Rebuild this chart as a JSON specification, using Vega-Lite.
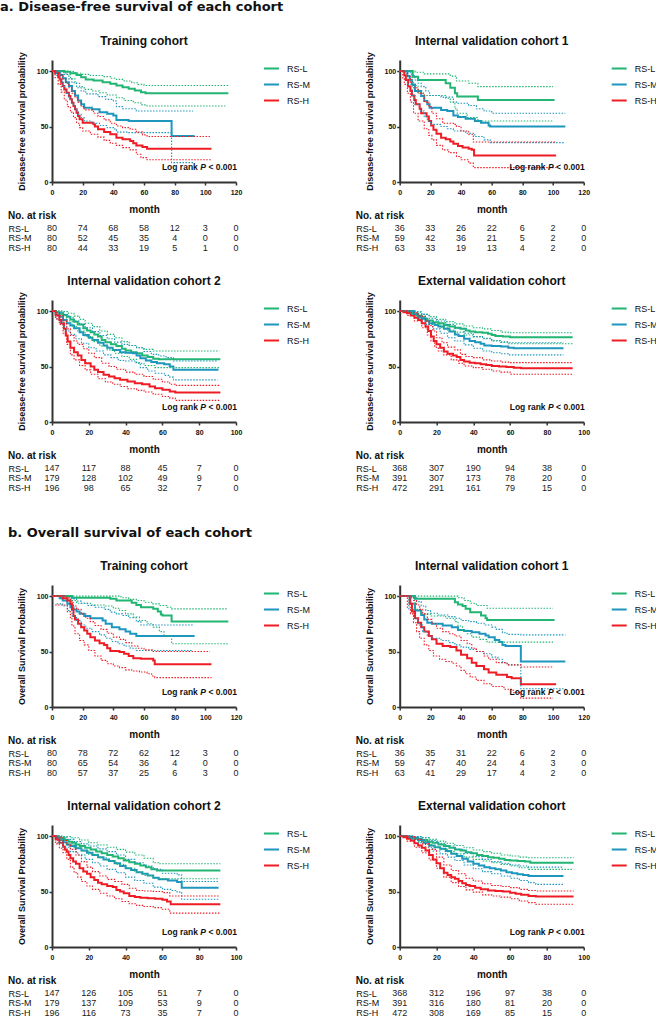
{
"$schema":"https://vega.github.io/schema/vega-lite/v6.json",
"autosize":{"type":"pad"},
"padding":{"top":1,"left":0,"right":0,"bottom":0},
"background":"white",
"datasets":{
"km":[
{"p":"a1","g":"L","c":"e","t":0,"s":100},{"p":"a1","g":"L","c":"e","t":8,"s":99.5},{"p":"a1","g":"L","c":"e","t":12,"s":98},{"p":"a1","g":"L","c":"e","t":16,"s":96.5},{"p":"a1","g":"L","c":"e","t":19,"s":94.5},{"p":"a1","g":"L","c":"e","t":22,"s":92.5},{"p":"a1","g":"L","c":"e","t":27,"s":91.5},{"p":"a1","g":"L","c":"e","t":33,"s":90},{"p":"a1","g":"L","c":"e","t":38,"s":88.5},{"p":"a1","g":"L","c":"e","t":42,"s":87},{"p":"a1","g":"L","c":"e","t":46,"s":85.5},{"p":"a1","g":"L","c":"e","t":50,"s":84},{"p":"a1","g":"L","c":"e","t":54,"s":82.5},{"p":"a1","g":"L","c":"e","t":58,"s":81},{"p":"a1","g":"L","c":"e","t":61,"s":80},{"p":"a1","g":"L","c":"e","t":115,"s":80},
{"p":"a1","g":"M","c":"e","t":0,"s":100},{"p":"a1","g":"M","c":"e","t":3,"s":98.5},{"p":"a1","g":"M","c":"e","t":5,"s":96.5},{"p":"a1","g":"M","c":"e","t":7,"s":93.5},{"p":"a1","g":"M","c":"e","t":9,"s":90},{"p":"a1","g":"M","c":"e","t":11,"s":86.5},{"p":"a1","g":"M","c":"e","t":13,"s":82},{"p":"a1","g":"M","c":"e","t":15,"s":78},{"p":"a1","g":"M","c":"e","t":17,"s":73.5},{"p":"a1","g":"M","c":"e","t":19,"s":70},{"p":"a1","g":"M","c":"e","t":21,"s":67},{"p":"a1","g":"M","c":"e","t":26,"s":65.5},{"p":"a1","g":"M","c":"e","t":31,"s":63},{"p":"a1","g":"M","c":"e","t":36,"s":61.5},{"p":"a1","g":"M","c":"e","t":40,"s":60},{"p":"a1","g":"M","c":"e","t":42,"s":56},{"p":"a1","g":"M","c":"e","t":50,"s":55},{"p":"a1","g":"M","c":"e","t":78,"s":41.5},{"p":"a1","g":"M","c":"e","t":93,"s":41.5},
{"p":"a1","g":"H","c":"e","t":0,"s":100},{"p":"a1","g":"H","c":"e","t":2,"s":98},{"p":"a1","g":"H","c":"e","t":4,"s":95},{"p":"a1","g":"H","c":"e","t":5,"s":92.5},{"p":"a1","g":"H","c":"e","t":6,"s":89.5},{"p":"a1","g":"H","c":"e","t":7,"s":86.5},{"p":"a1","g":"H","c":"e","t":8,"s":83.5},{"p":"a1","g":"H","c":"e","t":9.5,"s":80.5},{"p":"a1","g":"H","c":"e","t":11,"s":77.5},{"p":"a1","g":"H","c":"e","t":12,"s":74.5},{"p":"a1","g":"H","c":"e","t":13,"s":71.5},{"p":"a1","g":"H","c":"e","t":14,"s":68.5},{"p":"a1","g":"H","c":"e","t":15,"s":65.5},{"p":"a1","g":"H","c":"e","t":16,"s":62.5},{"p":"a1","g":"H","c":"e","t":17,"s":59.5},{"p":"a1","g":"H","c":"e","t":18,"s":56.5},{"p":"a1","g":"H","c":"e","t":20,"s":53.5},{"p":"a1","g":"H","c":"e","t":27,"s":52},{"p":"a1","g":"H","c":"e","t":28,"s":50},{"p":"a1","g":"H","c":"e","t":30,"s":47.5},{"p":"a1","g":"H","c":"e","t":34,"s":45},{"p":"a1","g":"H","c":"e","t":38,"s":43},{"p":"a1","g":"H","c":"e","t":42,"s":40},{"p":"a1","g":"H","c":"e","t":46,"s":38.5},{"p":"a1","g":"H","c":"e","t":51,"s":37},{"p":"a1","g":"H","c":"e","t":53,"s":35},{"p":"a1","g":"H","c":"e","t":55,"s":33},{"p":"a1","g":"H","c":"e","t":59,"s":31.5},{"p":"a1","g":"H","c":"e","t":62,"s":30},{"p":"a1","g":"H","c":"e","t":104,"s":30},
{"p":"a1","g":"L","c":"u","t":0,"s":100},{"p":"a1","g":"L","c":"u","t":10,"s":99.5},{"p":"a1","g":"L","c":"u","t":15,"s":98},{"p":"a1","g":"L","c":"u","t":20,"s":97},{"p":"a1","g":"L","c":"u","t":25,"s":96},{"p":"a1","g":"L","c":"u","t":33,"s":95},{"p":"a1","g":"L","c":"u","t":38,"s":93.5},{"p":"a1","g":"L","c":"u","t":42,"s":92.5},{"p":"a1","g":"L","c":"u","t":47,"s":91},{"p":"a1","g":"L","c":"u","t":52,"s":89.5},{"p":"a1","g":"L","c":"u","t":56,"s":88},{"p":"a1","g":"L","c":"u","t":60,"s":87},{"p":"a1","g":"L","c":"u","t":115,"s":87},
{"p":"a1","g":"L","c":"l","t":0,"s":100},{"p":"a1","g":"L","c":"l","t":9,"s":97},{"p":"a1","g":"L","c":"l","t":12,"s":93},{"p":"a1","g":"L","c":"l","t":15,"s":89},{"p":"a1","g":"L","c":"l","t":18,"s":86},{"p":"a1","g":"L","c":"l","t":21,"s":83.5},{"p":"a1","g":"L","c":"l","t":26,"s":82},{"p":"a1","g":"L","c":"l","t":31,"s":80.5},{"p":"a1","g":"L","c":"l","t":36,"s":78.5},{"p":"a1","g":"L","c":"l","t":42,"s":76},{"p":"a1","g":"L","c":"l","t":47,"s":73.5},{"p":"a1","g":"L","c":"l","t":53,"s":71.5},{"p":"a1","g":"L","c":"l","t":58,"s":69.5},{"p":"a1","g":"L","c":"l","t":62,"s":68.5},{"p":"a1","g":"L","c":"l","t":113,"s":68.5},
{"p":"a1","g":"M","c":"u","t":0,"s":100},{"p":"a1","g":"M","c":"u","t":5,"s":99},{"p":"a1","g":"M","c":"u","t":8,"s":97},{"p":"a1","g":"M","c":"u","t":11,"s":93},{"p":"a1","g":"M","c":"u","t":13,"s":89.5},{"p":"a1","g":"M","c":"u","t":16,"s":85},{"p":"a1","g":"M","c":"u","t":19,"s":82},{"p":"a1","g":"M","c":"u","t":22,"s":79.5},{"p":"a1","g":"M","c":"u","t":30,"s":77},{"p":"a1","g":"M","c":"u","t":35,"s":74.5},{"p":"a1","g":"M","c":"u","t":40,"s":73},{"p":"a1","g":"M","c":"u","t":42,"s":68},{"p":"a1","g":"M","c":"u","t":46,"s":66},{"p":"a1","g":"M","c":"u","t":55,"s":64},{"p":"a1","g":"M","c":"u","t":92,"s":64},
{"p":"a1","g":"M","c":"l","t":0,"s":100},{"p":"a1","g":"M","c":"l","t":3,"s":96},{"p":"a1","g":"M","c":"l","t":5,"s":92},{"p":"a1","g":"M","c":"l","t":7,"s":86},{"p":"a1","g":"M","c":"l","t":9,"s":80},{"p":"a1","g":"M","c":"l","t":11,"s":75},{"p":"a1","g":"M","c":"l","t":13,"s":70},{"p":"a1","g":"M","c":"l","t":15,"s":65},{"p":"a1","g":"M","c":"l","t":17,"s":61},{"p":"a1","g":"M","c":"l","t":19,"s":58},{"p":"a1","g":"M","c":"l","t":21,"s":55},{"p":"a1","g":"M","c":"l","t":26,"s":53},{"p":"a1","g":"M","c":"l","t":31,"s":51},{"p":"a1","g":"M","c":"l","t":36,"s":49},{"p":"a1","g":"M","c":"l","t":41,"s":47},{"p":"a1","g":"M","c":"l","t":42,"s":45},{"p":"a1","g":"M","c":"l","t":50,"s":44.5},{"p":"a1","g":"M","c":"l","t":78,"s":17.5},{"p":"a1","g":"M","c":"l","t":92,"s":17.5},
{"p":"a1","g":"H","c":"u","t":0,"s":100},{"p":"a1","g":"H","c":"u","t":3,"s":99},{"p":"a1","g":"H","c":"u","t":5,"s":97},{"p":"a1","g":"H","c":"u","t":7,"s":93},{"p":"a1","g":"H","c":"u","t":9,"s":89},{"p":"a1","g":"H","c":"u","t":11,"s":85},{"p":"a1","g":"H","c":"u","t":13,"s":80},{"p":"a1","g":"H","c":"u","t":15,"s":76},{"p":"a1","g":"H","c":"u","t":17,"s":72},{"p":"a1","g":"H","c":"u","t":19,"s":68},{"p":"a1","g":"H","c":"u","t":21,"s":65},{"p":"a1","g":"H","c":"u","t":27,"s":62},{"p":"a1","g":"H","c":"u","t":30,"s":59},{"p":"a1","g":"H","c":"u","t":34,"s":56},{"p":"a1","g":"H","c":"u","t":38,"s":53},{"p":"a1","g":"H","c":"u","t":42,"s":50.5},{"p":"a1","g":"H","c":"u","t":46,"s":49},{"p":"a1","g":"H","c":"u","t":51,"s":47.5},{"p":"a1","g":"H","c":"u","t":55,"s":45},{"p":"a1","g":"H","c":"u","t":59,"s":42.5},{"p":"a1","g":"H","c":"u","t":62,"s":41},{"p":"a1","g":"H","c":"u","t":103,"s":41},
{"p":"a1","g":"H","c":"l","t":0,"s":100},{"p":"a1","g":"H","c":"l","t":2,"s":94},{"p":"a1","g":"H","c":"l","t":4,"s":88},{"p":"a1","g":"H","c":"l","t":6,"s":81},{"p":"a1","g":"H","c":"l","t":8,"s":74},{"p":"a1","g":"H","c":"l","t":10,"s":68},{"p":"a1","g":"H","c":"l","t":12,"s":63},{"p":"a1","g":"H","c":"l","t":14,"s":58},{"p":"a1","g":"H","c":"l","t":16,"s":53},{"p":"a1","g":"H","c":"l","t":18,"s":49},{"p":"a1","g":"H","c":"l","t":20,"s":46},{"p":"a1","g":"H","c":"l","t":25,"s":43},{"p":"a1","g":"H","c":"l","t":30,"s":40.5},{"p":"a1","g":"H","c":"l","t":34,"s":37.5},{"p":"a1","g":"H","c":"l","t":38,"s":35},{"p":"a1","g":"H","c":"l","t":42,"s":33},{"p":"a1","g":"H","c":"l","t":46,"s":31},{"p":"a1","g":"H","c":"l","t":51,"s":29},{"p":"a1","g":"H","c":"l","t":55,"s":25},{"p":"a1","g":"H","c":"l","t":58,"s":22},{"p":"a1","g":"H","c":"l","t":62,"s":20},{"p":"a1","g":"H","c":"l","t":104,"s":20},

{"p":"a2","g":"L","c":"e","t":0,"s":100},{"p":"a2","g":"L","c":"e","t":8.5,"s":95},{"p":"a2","g":"L","c":"e","t":12,"s":92},{"p":"a2","g":"L","c":"e","t":30,"s":89},{"p":"a2","g":"L","c":"e","t":33,"s":85},{"p":"a2","g":"L","c":"e","t":36,"s":80},{"p":"a2","g":"L","c":"e","t":37.5,"s":77},{"p":"a2","g":"L","c":"e","t":51,"s":74},{"p":"a2","g":"L","c":"e","t":101,"s":74},
{"p":"a2","g":"M","c":"e","t":0,"s":100},{"p":"a2","g":"M","c":"e","t":5,"s":95.5},{"p":"a2","g":"M","c":"e","t":6.5,"s":92},{"p":"a2","g":"M","c":"e","t":8,"s":88},{"p":"a2","g":"M","c":"e","t":10,"s":82},{"p":"a2","g":"M","c":"e","t":14,"s":77.5},{"p":"a2","g":"M","c":"e","t":16,"s":73},{"p":"a2","g":"M","c":"e","t":18,"s":70},{"p":"a2","g":"M","c":"e","t":19.5,"s":67},{"p":"a2","g":"M","c":"e","t":27,"s":65},{"p":"a2","g":"M","c":"e","t":31,"s":64},{"p":"a2","g":"M","c":"e","t":35,"s":60},{"p":"a2","g":"M","c":"e","t":38,"s":58.5},{"p":"a2","g":"M","c":"e","t":43,"s":57},{"p":"a2","g":"M","c":"e","t":49,"s":55},{"p":"a2","g":"M","c":"e","t":53,"s":53.5},{"p":"a2","g":"M","c":"e","t":58,"s":51},{"p":"a2","g":"M","c":"e","t":59,"s":50},{"p":"a2","g":"M","c":"e","t":108,"s":50},
{"p":"a2","g":"H","c":"e","t":0,"s":100},{"p":"a2","g":"H","c":"e","t":3,"s":96},{"p":"a2","g":"H","c":"e","t":4,"s":92},{"p":"a2","g":"H","c":"e","t":5.5,"s":86},{"p":"a2","g":"H","c":"e","t":7,"s":82},{"p":"a2","g":"H","c":"e","t":8,"s":78},{"p":"a2","g":"H","c":"e","t":9.5,"s":74},{"p":"a2","g":"H","c":"e","t":10.5,"s":70},{"p":"a2","g":"H","c":"e","t":13,"s":66},{"p":"a2","g":"H","c":"e","t":14,"s":62},{"p":"a2","g":"H","c":"e","t":17.5,"s":59},{"p":"a2","g":"H","c":"e","t":19,"s":55},{"p":"a2","g":"H","c":"e","t":20.5,"s":51},{"p":"a2","g":"H","c":"e","t":22,"s":47},{"p":"a2","g":"H","c":"e","t":24,"s":43.5},{"p":"a2","g":"H","c":"e","t":27,"s":40},{"p":"a2","g":"H","c":"e","t":30,"s":38.5},{"p":"a2","g":"H","c":"e","t":33,"s":36.5},{"p":"a2","g":"H","c":"e","t":35,"s":34.5},{"p":"a2","g":"H","c":"e","t":38,"s":32.5},{"p":"a2","g":"H","c":"e","t":41,"s":31},{"p":"a2","g":"H","c":"e","t":45,"s":30},{"p":"a2","g":"H","c":"e","t":47,"s":29},{"p":"a2","g":"H","c":"e","t":48.5,"s":24},{"p":"a2","g":"H","c":"e","t":102,"s":24},
{"p":"a2","g":"L","c":"u","t":0,"s":100},{"p":"a2","g":"L","c":"u","t":10,"s":99},{"p":"a2","g":"L","c":"u","t":16,"s":97.5},{"p":"a2","g":"L","c":"u","t":33,"s":95.5},{"p":"a2","g":"L","c":"u","t":37,"s":91},{"p":"a2","g":"L","c":"u","t":45,"s":89},{"p":"a2","g":"L","c":"u","t":51,"s":86},{"p":"a2","g":"L","c":"u","t":100,"s":86},
{"p":"a2","g":"L","c":"l","t":0,"s":100},{"p":"a2","g":"L","c":"l","t":8,"s":87},{"p":"a2","g":"L","c":"l","t":12,"s":80},{"p":"a2","g":"L","c":"l","t":16,"s":78},{"p":"a2","g":"L","c":"l","t":30,"s":75.5},{"p":"a2","g":"L","c":"l","t":33,"s":72},{"p":"a2","g":"L","c":"l","t":36,"s":66},{"p":"a2","g":"L","c":"l","t":37.5,"s":62},{"p":"a2","g":"L","c":"l","t":44,"s":58},{"p":"a2","g":"L","c":"l","t":51,"s":55},{"p":"a2","g":"L","c":"l","t":100,"s":55},
{"p":"a2","g":"M","c":"u","t":0,"s":100},{"p":"a2","g":"M","c":"u","t":6,"s":98.5},{"p":"a2","g":"M","c":"u","t":8,"s":96},{"p":"a2","g":"M","c":"u","t":10,"s":92},{"p":"a2","g":"M","c":"u","t":12,"s":89},{"p":"a2","g":"M","c":"u","t":14,"s":86},{"p":"a2","g":"M","c":"u","t":17,"s":82},{"p":"a2","g":"M","c":"u","t":19.5,"s":78},{"p":"a2","g":"M","c":"u","t":27,"s":76.5},{"p":"a2","g":"M","c":"u","t":35,"s":72},{"p":"a2","g":"M","c":"u","t":38,"s":71},{"p":"a2","g":"M","c":"u","t":45,"s":69},{"p":"a2","g":"M","c":"u","t":50,"s":66},{"p":"a2","g":"M","c":"u","t":55,"s":64},{"p":"a2","g":"M","c":"u","t":60,"s":62},{"p":"a2","g":"M","c":"u","t":108,"s":62},
{"p":"a2","g":"M","c":"l","t":0,"s":100},{"p":"a2","g":"M","c":"l","t":5,"s":88},{"p":"a2","g":"M","c":"l","t":8,"s":78},{"p":"a2","g":"M","c":"l","t":10,"s":70},{"p":"a2","g":"M","c":"l","t":13,"s":64},{"p":"a2","g":"M","c":"l","t":16,"s":59},{"p":"a2","g":"M","c":"l","t":18,"s":55},{"p":"a2","g":"M","c":"l","t":20,"s":52},{"p":"a2","g":"M","c":"l","t":27,"s":50},{"p":"a2","g":"M","c":"l","t":31,"s":48},{"p":"a2","g":"M","c":"l","t":35,"s":46},{"p":"a2","g":"M","c":"l","t":43,"s":44},{"p":"a2","g":"M","c":"l","t":49,"s":41},{"p":"a2","g":"M","c":"l","t":55,"s":38},{"p":"a2","g":"M","c":"l","t":59,"s":35.5},{"p":"a2","g":"M","c":"l","t":107,"s":35.5},
{"p":"a2","g":"H","c":"u","t":0,"s":100},{"p":"a2","g":"H","c":"u","t":3,"s":98.5},{"p":"a2","g":"H","c":"u","t":5,"s":95},{"p":"a2","g":"H","c":"u","t":7,"s":90},{"p":"a2","g":"H","c":"u","t":9,"s":85},{"p":"a2","g":"H","c":"u","t":12,"s":80},{"p":"a2","g":"H","c":"u","t":16,"s":72},{"p":"a2","g":"H","c":"u","t":19,"s":68},{"p":"a2","g":"H","c":"u","t":21,"s":62},{"p":"a2","g":"H","c":"u","t":24,"s":57},{"p":"a2","g":"H","c":"u","t":28,"s":53},{"p":"a2","g":"H","c":"u","t":35,"s":52},{"p":"a2","g":"H","c":"u","t":37,"s":50},{"p":"a2","g":"H","c":"u","t":40,"s":46},{"p":"a2","g":"H","c":"u","t":45,"s":43},{"p":"a2","g":"H","c":"u","t":48,"s":36},{"p":"a2","g":"H","c":"u","t":102,"s":36},
{"p":"a2","g":"H","c":"l","t":0,"s":100},{"p":"a2","g":"H","c":"l","t":2,"s":93},{"p":"a2","g":"H","c":"l","t":3,"s":88},{"p":"a2","g":"H","c":"l","t":5,"s":80},{"p":"a2","g":"H","c":"l","t":7,"s":72},{"p":"a2","g":"H","c":"l","t":9,"s":62},{"p":"a2","g":"H","c":"l","t":12,"s":55},{"p":"a2","g":"H","c":"l","t":16,"s":48},{"p":"a2","g":"H","c":"l","t":19,"s":42},{"p":"a2","g":"H","c":"l","t":21,"s":38},{"p":"a2","g":"H","c":"l","t":24,"s":33},{"p":"a2","g":"H","c":"l","t":28,"s":29},{"p":"a2","g":"H","c":"l","t":32,"s":26.5},{"p":"a2","g":"H","c":"l","t":37,"s":23},{"p":"a2","g":"H","c":"l","t":40,"s":20},{"p":"a2","g":"H","c":"l","t":45,"s":17},{"p":"a2","g":"H","c":"l","t":48,"s":13},{"p":"a2","g":"H","c":"l","t":102,"s":13},

{"p":"a3","g":"L","c":"e","t":0,"s":100},{"p":"a3","g":"L","c":"e","t":2,"s":99},{"p":"a3","g":"L","c":"e","t":4,"s":98},{"p":"a3","g":"L","c":"e","t":6,"s":96.5},{"p":"a3","g":"L","c":"e","t":8,"s":95},{"p":"a3","g":"L","c":"e","t":10,"s":92.5},{"p":"a3","g":"L","c":"e","t":12,"s":90.5},{"p":"a3","g":"L","c":"e","t":14,"s":88},{"p":"a3","g":"L","c":"e","t":17,"s":84.5},{"p":"a3","g":"L","c":"e","t":19,"s":82.5},{"p":"a3","g":"L","c":"e","t":21,"s":81},{"p":"a3","g":"L","c":"e","t":23,"s":79},{"p":"a3","g":"L","c":"e","t":25,"s":77},{"p":"a3","g":"L","c":"e","t":27,"s":74},{"p":"a3","g":"L","c":"e","t":29,"s":72},{"p":"a3","g":"L","c":"e","t":32,"s":70},{"p":"a3","g":"L","c":"e","t":35,"s":68.5},{"p":"a3","g":"L","c":"e","t":38,"s":66},{"p":"a3","g":"L","c":"e","t":40,"s":64.5},{"p":"a3","g":"L","c":"e","t":43,"s":63},{"p":"a3","g":"L","c":"e","t":46,"s":62},{"p":"a3","g":"L","c":"e","t":49,"s":60},{"p":"a3","g":"L","c":"e","t":52,"s":58.5},{"p":"a3","g":"L","c":"e","t":55,"s":57},{"p":"a3","g":"L","c":"e","t":58,"s":56.5},{"p":"a3","g":"L","c":"e","t":91.5,"s":56.5},
{"p":"a3","g":"M","c":"e","t":0,"s":100},{"p":"a3","g":"M","c":"e","t":2,"s":97},{"p":"a3","g":"M","c":"e","t":4,"s":95},{"p":"a3","g":"M","c":"e","t":6,"s":92},{"p":"a3","g":"M","c":"e","t":8,"s":89},{"p":"a3","g":"M","c":"e","t":10,"s":87},{"p":"a3","g":"M","c":"e","t":12,"s":84.5},{"p":"a3","g":"M","c":"e","t":15,"s":81},{"p":"a3","g":"M","c":"e","t":17,"s":78.5},{"p":"a3","g":"M","c":"e","t":20,"s":76},{"p":"a3","g":"M","c":"e","t":22,"s":74},{"p":"a3","g":"M","c":"e","t":25,"s":71.5},{"p":"a3","g":"M","c":"e","t":28,"s":69},{"p":"a3","g":"M","c":"e","t":30,"s":67},{"p":"a3","g":"M","c":"e","t":33,"s":65},{"p":"a3","g":"M","c":"e","t":37,"s":63},{"p":"a3","g":"M","c":"e","t":40,"s":62.5},{"p":"a3","g":"M","c":"e","t":44,"s":62},{"p":"a3","g":"M","c":"e","t":46,"s":60},{"p":"a3","g":"M","c":"e","t":48,"s":57.5},{"p":"a3","g":"M","c":"e","t":51,"s":55.5},{"p":"a3","g":"M","c":"e","t":54,"s":54},{"p":"a3","g":"M","c":"e","t":57,"s":53},{"p":"a3","g":"M","c":"e","t":61,"s":52},{"p":"a3","g":"M","c":"e","t":64,"s":50},{"p":"a3","g":"M","c":"e","t":66,"s":47},{"p":"a3","g":"M","c":"e","t":90.5,"s":47},
{"p":"a3","g":"H","c":"e","t":0,"s":100},{"p":"a3","g":"H","c":"e","t":2,"s":96},{"p":"a3","g":"H","c":"e","t":4,"s":92},{"p":"a3","g":"H","c":"e","t":5,"s":89},{"p":"a3","g":"H","c":"e","t":6.5,"s":84},{"p":"a3","g":"H","c":"e","t":7.5,"s":78},{"p":"a3","g":"H","c":"e","t":8.5,"s":72.5},{"p":"a3","g":"H","c":"e","t":10,"s":67},{"p":"a3","g":"H","c":"e","t":12,"s":63},{"p":"a3","g":"H","c":"e","t":14,"s":60},{"p":"a3","g":"H","c":"e","t":16,"s":56},{"p":"a3","g":"H","c":"e","t":18,"s":53},{"p":"a3","g":"H","c":"e","t":21,"s":50},{"p":"a3","g":"H","c":"e","t":23,"s":47},{"p":"a3","g":"H","c":"e","t":25,"s":45},{"p":"a3","g":"H","c":"e","t":28,"s":42.5},{"p":"a3","g":"H","c":"e","t":31,"s":41},{"p":"a3","g":"H","c":"e","t":34,"s":39.5},{"p":"a3","g":"H","c":"e","t":37,"s":38},{"p":"a3","g":"H","c":"e","t":41,"s":36.5},{"p":"a3","g":"H","c":"e","t":45,"s":35},{"p":"a3","g":"H","c":"e","t":49,"s":34},{"p":"a3","g":"H","c":"e","t":53,"s":32},{"p":"a3","g":"H","c":"e","t":56,"s":30.5},{"p":"a3","g":"H","c":"e","t":60,"s":29},{"p":"a3","g":"H","c":"e","t":64,"s":27.5},{"p":"a3","g":"H","c":"e","t":67,"s":26.5},{"p":"a3","g":"H","c":"e","t":91.5,"s":26.5},
{"p":"a3","g":"L","c":"u","t":0,"s":100},{"p":"a3","g":"L","c":"u","t":6,"s":99.5},{"p":"a3","g":"L","c":"u","t":9,"s":98},{"p":"a3","g":"L","c":"u","t":12,"s":95.5},{"p":"a3","g":"L","c":"u","t":15,"s":92.5},{"p":"a3","g":"L","c":"u","t":18,"s":89},{"p":"a3","g":"L","c":"u","t":22,"s":86},{"p":"a3","g":"L","c":"u","t":26,"s":82},{"p":"a3","g":"L","c":"u","t":30,"s":79},{"p":"a3","g":"L","c":"u","t":34,"s":76},{"p":"a3","g":"L","c":"u","t":38,"s":72.5},{"p":"a3","g":"L","c":"u","t":42,"s":69},{"p":"a3","g":"L","c":"u","t":46,"s":67},{"p":"a3","g":"L","c":"u","t":50,"s":65.5},{"p":"a3","g":"L","c":"u","t":55,"s":64},{"p":"a3","g":"L","c":"u","t":91,"s":64},
{"p":"a3","g":"L","c":"l","t":0,"s":100},{"p":"a3","g":"L","c":"l","t":5,"s":96},{"p":"a3","g":"L","c":"l","t":8,"s":91},{"p":"a3","g":"L","c":"l","t":11,"s":86},{"p":"a3","g":"L","c":"l","t":14,"s":82},{"p":"a3","g":"L","c":"l","t":18,"s":77},{"p":"a3","g":"L","c":"l","t":22,"s":72.5},{"p":"a3","g":"L","c":"l","t":26,"s":68.5},{"p":"a3","g":"L","c":"l","t":30,"s":65},{"p":"a3","g":"L","c":"l","t":34,"s":62},{"p":"a3","g":"L","c":"l","t":38,"s":59},{"p":"a3","g":"L","c":"l","t":42,"s":56.5},{"p":"a3","g":"L","c":"l","t":46,"s":53},{"p":"a3","g":"L","c":"l","t":50,"s":51},{"p":"a3","g":"L","c":"l","t":56,"s":49},{"p":"a3","g":"L","c":"l","t":91,"s":49},
{"p":"a3","g":"M","c":"u","t":0,"s":100},{"p":"a3","g":"M","c":"u","t":3,"s":99},{"p":"a3","g":"M","c":"u","t":6,"s":97},{"p":"a3","g":"M","c":"u","t":9,"s":94},{"p":"a3","g":"M","c":"u","t":12,"s":91},{"p":"a3","g":"M","c":"u","t":15,"s":88},{"p":"a3","g":"M","c":"u","t":18,"s":85},{"p":"a3","g":"M","c":"u","t":22,"s":81.5},{"p":"a3","g":"M","c":"u","t":26,"s":78},{"p":"a3","g":"M","c":"u","t":30,"s":75},{"p":"a3","g":"M","c":"u","t":34,"s":72},{"p":"a3","g":"M","c":"u","t":38,"s":70},{"p":"a3","g":"M","c":"u","t":42,"s":69},{"p":"a3","g":"M","c":"u","t":46,"s":67},{"p":"a3","g":"M","c":"u","t":50,"s":63.5},{"p":"a3","g":"M","c":"u","t":54,"s":61},{"p":"a3","g":"M","c":"u","t":58,"s":59.5},{"p":"a3","g":"M","c":"u","t":62,"s":58},{"p":"a3","g":"M","c":"u","t":66,"s":55},{"p":"a3","g":"M","c":"u","t":90,"s":55},
{"p":"a3","g":"M","c":"l","t":0,"s":100},{"p":"a3","g":"M","c":"l","t":2,"s":93},{"p":"a3","g":"M","c":"l","t":4,"s":90},{"p":"a3","g":"M","c":"l","t":6,"s":86},{"p":"a3","g":"M","c":"l","t":8,"s":82},{"p":"a3","g":"M","c":"l","t":10,"s":79},{"p":"a3","g":"M","c":"l","t":13,"s":75},{"p":"a3","g":"M","c":"l","t":16,"s":71},{"p":"a3","g":"M","c":"l","t":20,"s":67},{"p":"a3","g":"M","c":"l","t":24,"s":64},{"p":"a3","g":"M","c":"l","t":28,"s":60.5},{"p":"a3","g":"M","c":"l","t":32,"s":58},{"p":"a3","g":"M","c":"l","t":36,"s":55.5},{"p":"a3","g":"M","c":"l","t":40,"s":55},{"p":"a3","g":"M","c":"l","t":45,"s":53.5},{"p":"a3","g":"M","c":"l","t":48,"s":49},{"p":"a3","g":"M","c":"l","t":52,"s":46},{"p":"a3","g":"M","c":"l","t":56,"s":44},{"p":"a3","g":"M","c":"l","t":61,"s":42},{"p":"a3","g":"M","c":"l","t":64,"s":40.5},{"p":"a3","g":"M","c":"l","t":66,"s":38},{"p":"a3","g":"M","c":"l","t":90,"s":38},
{"p":"a3","g":"H","c":"u","t":0,"s":100},{"p":"a3","g":"H","c":"u","t":2,"s":98.5},{"p":"a3","g":"H","c":"u","t":4,"s":96},{"p":"a3","g":"H","c":"u","t":6,"s":91},{"p":"a3","g":"H","c":"u","t":8,"s":84},{"p":"a3","g":"H","c":"u","t":10,"s":78},{"p":"a3","g":"H","c":"u","t":12,"s":73},{"p":"a3","g":"H","c":"u","t":14,"s":70},{"p":"a3","g":"H","c":"u","t":17,"s":66},{"p":"a3","g":"H","c":"u","t":20,"s":62},{"p":"a3","g":"H","c":"u","t":23,"s":58},{"p":"a3","g":"H","c":"u","t":27,"s":53},{"p":"a3","g":"H","c":"u","t":31,"s":50},{"p":"a3","g":"H","c":"u","t":35,"s":47.5},{"p":"a3","g":"H","c":"u","t":40,"s":45},{"p":"a3","g":"H","c":"u","t":45,"s":43},{"p":"a3","g":"H","c":"u","t":50,"s":41},{"p":"a3","g":"H","c":"u","t":55,"s":38.5},{"p":"a3","g":"H","c":"u","t":60,"s":36},{"p":"a3","g":"H","c":"u","t":64,"s":34},{"p":"a3","g":"H","c":"u","t":67,"s":33},{"p":"a3","g":"H","c":"u","t":91,"s":33},
{"p":"a3","g":"H","c":"l","t":0,"s":100},{"p":"a3","g":"H","c":"l","t":2,"s":93},{"p":"a3","g":"H","c":"l","t":4,"s":88},{"p":"a3","g":"H","c":"l","t":6,"s":80},{"p":"a3","g":"H","c":"l","t":8,"s":70},{"p":"a3","g":"H","c":"l","t":10,"s":60.5},{"p":"a3","g":"H","c":"l","t":12,"s":56},{"p":"a3","g":"H","c":"l","t":15,"s":51},{"p":"a3","g":"H","c":"l","t":18,"s":47},{"p":"a3","g":"H","c":"l","t":21,"s":43},{"p":"a3","g":"H","c":"l","t":25,"s":39},{"p":"a3","g":"H","c":"l","t":29,"s":36},{"p":"a3","g":"H","c":"l","t":33,"s":34},{"p":"a3","g":"H","c":"l","t":37,"s":32},{"p":"a3","g":"H","c":"l","t":41,"s":30},{"p":"a3","g":"H","c":"l","t":46,"s":28.5},{"p":"a3","g":"H","c":"l","t":50,"s":27},{"p":"a3","g":"H","c":"l","t":55,"s":25},{"p":"a3","g":"H","c":"l","t":60,"s":23},{"p":"a3","g":"H","c":"l","t":64,"s":21.5},{"p":"a3","g":"H","c":"l","t":67,"s":19.5},{"p":"a3","g":"H","c":"l","t":91,"s":19.5},

{"p":"a4","g":"L","c":"e","t":0,"s":100},{"p":"a4","g":"L","c":"e","t":3,"s":99.5},{"p":"a4","g":"L","c":"e","t":5,"s":99},{"p":"a4","g":"L","c":"e","t":7,"s":97.5},{"p":"a4","g":"L","c":"e","t":9,"s":96},{"p":"a4","g":"L","c":"e","t":11,"s":94.5},{"p":"a4","g":"L","c":"e","t":13,"s":93},{"p":"a4","g":"L","c":"e","t":15,"s":91.5},{"p":"a4","g":"L","c":"e","t":18,"s":90},{"p":"a4","g":"L","c":"e","t":21,"s":89},{"p":"a4","g":"L","c":"e","t":24,"s":87.5},{"p":"a4","g":"L","c":"e","t":27,"s":86},{"p":"a4","g":"L","c":"e","t":30,"s":85},{"p":"a4","g":"L","c":"e","t":33,"s":84},{"p":"a4","g":"L","c":"e","t":36,"s":82.5},{"p":"a4","g":"L","c":"e","t":38,"s":81.5},{"p":"a4","g":"L","c":"e","t":41,"s":81},{"p":"a4","g":"L","c":"e","t":45,"s":80.5},{"p":"a4","g":"L","c":"e","t":48,"s":79.5},{"p":"a4","g":"L","c":"e","t":50,"s":78.5},{"p":"a4","g":"L","c":"e","t":52,"s":77.5},{"p":"a4","g":"L","c":"e","t":56,"s":77},{"p":"a4","g":"L","c":"e","t":60,"s":76.5},{"p":"a4","g":"L","c":"e","t":94,"s":76.5},
{"p":"a4","g":"M","c":"e","t":0,"s":100},{"p":"a4","g":"M","c":"e","t":8,"s":97.5},{"p":"a4","g":"M","c":"e","t":10,"s":95.5},{"p":"a4","g":"M","c":"e","t":12,"s":93.5},{"p":"a4","g":"M","c":"e","t":14,"s":91},{"p":"a4","g":"M","c":"e","t":16,"s":89},{"p":"a4","g":"M","c":"e","t":19,"s":87.5},{"p":"a4","g":"M","c":"e","t":21,"s":86},{"p":"a4","g":"M","c":"e","t":24,"s":84},{"p":"a4","g":"M","c":"e","t":27,"s":81.5},{"p":"a4","g":"M","c":"e","t":30,"s":79},{"p":"a4","g":"M","c":"e","t":32,"s":77.5},{"p":"a4","g":"M","c":"e","t":35,"s":75},{"p":"a4","g":"M","c":"e","t":38,"s":73},{"p":"a4","g":"M","c":"e","t":41,"s":72},{"p":"a4","g":"M","c":"e","t":44,"s":70.5},{"p":"a4","g":"M","c":"e","t":46,"s":69},{"p":"a4","g":"M","c":"e","t":50,"s":68.5},{"p":"a4","g":"M","c":"e","t":55,"s":68},{"p":"a4","g":"M","c":"e","t":59,"s":67},{"p":"a4","g":"M","c":"e","t":62,"s":66.5},{"p":"a4","g":"M","c":"e","t":89,"s":66.5},
{"p":"a4","g":"H","c":"e","t":0,"s":100},{"p":"a4","g":"H","c":"e","t":2,"s":99},{"p":"a4","g":"H","c":"e","t":4,"s":98},{"p":"a4","g":"H","c":"e","t":6,"s":96},{"p":"a4","g":"H","c":"e","t":8,"s":94},{"p":"a4","g":"H","c":"e","t":10,"s":92},{"p":"a4","g":"H","c":"e","t":12,"s":89},{"p":"a4","g":"H","c":"e","t":14,"s":86},{"p":"a4","g":"H","c":"e","t":15.5,"s":82},{"p":"a4","g":"H","c":"e","t":17,"s":77},{"p":"a4","g":"H","c":"e","t":18.5,"s":73},{"p":"a4","g":"H","c":"e","t":20,"s":70},{"p":"a4","g":"H","c":"e","t":22,"s":67},{"p":"a4","g":"H","c":"e","t":24,"s":63.5},{"p":"a4","g":"H","c":"e","t":26,"s":61.5},{"p":"a4","g":"H","c":"e","t":29,"s":60},{"p":"a4","g":"H","c":"e","t":31,"s":58.5},{"p":"a4","g":"H","c":"e","t":33,"s":56},{"p":"a4","g":"H","c":"e","t":35,"s":54.5},{"p":"a4","g":"H","c":"e","t":38,"s":53.5},{"p":"a4","g":"H","c":"e","t":41,"s":53},{"p":"a4","g":"H","c":"e","t":44,"s":52},{"p":"a4","g":"H","c":"e","t":47,"s":51.5},{"p":"a4","g":"H","c":"e","t":50,"s":50.5},{"p":"a4","g":"H","c":"e","t":54,"s":50},{"p":"a4","g":"H","c":"e","t":58,"s":49.5},{"p":"a4","g":"H","c":"e","t":62,"s":49},{"p":"a4","g":"H","c":"e","t":66,"s":48.5},{"p":"a4","g":"H","c":"e","t":94,"s":48.5},
{"p":"a4","g":"L","c":"u","t":0,"s":100},{"p":"a4","g":"L","c":"u","t":8,"s":99},{"p":"a4","g":"L","c":"u","t":12,"s":97},{"p":"a4","g":"L","c":"u","t":16,"s":95},{"p":"a4","g":"L","c":"u","t":20,"s":92.5},{"p":"a4","g":"L","c":"u","t":25,"s":90.5},{"p":"a4","g":"L","c":"u","t":30,"s":88.5},{"p":"a4","g":"L","c":"u","t":35,"s":86.5},{"p":"a4","g":"L","c":"u","t":40,"s":85},{"p":"a4","g":"L","c":"u","t":45,"s":84},{"p":"a4","g":"L","c":"u","t":50,"s":82.5},{"p":"a4","g":"L","c":"u","t":55,"s":81},{"p":"a4","g":"L","c":"u","t":59,"s":80.5},{"p":"a4","g":"L","c":"u","t":94,"s":80.5},
{"p":"a4","g":"L","c":"l","t":0,"s":100},{"p":"a4","g":"L","c":"l","t":6,"s":98},{"p":"a4","g":"L","c":"l","t":10,"s":95},{"p":"a4","g":"L","c":"l","t":14,"s":91},{"p":"a4","g":"L","c":"l","t":18,"s":88},{"p":"a4","g":"L","c":"l","t":22,"s":85.5},{"p":"a4","g":"L","c":"l","t":26,"s":83},{"p":"a4","g":"L","c":"l","t":30,"s":81},{"p":"a4","g":"L","c":"l","t":35,"s":78.5},{"p":"a4","g":"L","c":"l","t":40,"s":77},{"p":"a4","g":"L","c":"l","t":45,"s":75.5},{"p":"a4","g":"L","c":"l","t":50,"s":73.5},{"p":"a4","g":"L","c":"l","t":55,"s":72},{"p":"a4","g":"L","c":"l","t":59,"s":70.5},{"p":"a4","g":"L","c":"l","t":94,"s":70.5},
{"p":"a4","g":"M","c":"u","t":0,"s":100},{"p":"a4","g":"M","c":"u","t":8,"s":99.5},{"p":"a4","g":"M","c":"u","t":12,"s":97},{"p":"a4","g":"M","c":"u","t":16,"s":93.5},{"p":"a4","g":"M","c":"u","t":20,"s":91},{"p":"a4","g":"M","c":"u","t":25,"s":88},{"p":"a4","g":"M","c":"u","t":30,"s":84.5},{"p":"a4","g":"M","c":"u","t":35,"s":80},{"p":"a4","g":"M","c":"u","t":40,"s":77},{"p":"a4","g":"M","c":"u","t":45,"s":75},{"p":"a4","g":"M","c":"u","t":50,"s":73},{"p":"a4","g":"M","c":"u","t":55,"s":72},{"p":"a4","g":"M","c":"u","t":59,"s":71.5},{"p":"a4","g":"M","c":"u","t":89,"s":71.5},
{"p":"a4","g":"M","c":"l","t":0,"s":100},{"p":"a4","g":"M","c":"l","t":6,"s":97},{"p":"a4","g":"M","c":"l","t":10,"s":93},{"p":"a4","g":"M","c":"l","t":14,"s":88},{"p":"a4","g":"M","c":"l","t":18,"s":84},{"p":"a4","g":"M","c":"l","t":22,"s":80},{"p":"a4","g":"M","c":"l","t":26,"s":76},{"p":"a4","g":"M","c":"l","t":30,"s":73},{"p":"a4","g":"M","c":"l","t":35,"s":69.5},{"p":"a4","g":"M","c":"l","t":40,"s":66.5},{"p":"a4","g":"M","c":"l","t":45,"s":64},{"p":"a4","g":"M","c":"l","t":50,"s":62.5},{"p":"a4","g":"M","c":"l","t":55,"s":61.5},{"p":"a4","g":"M","c":"l","t":59,"s":60.5},{"p":"a4","g":"M","c":"l","t":89,"s":60.5},
{"p":"a4","g":"H","c":"u","t":0,"s":100},{"p":"a4","g":"H","c":"u","t":6,"s":98.5},{"p":"a4","g":"H","c":"u","t":10,"s":95.5},{"p":"a4","g":"H","c":"u","t":14,"s":91},{"p":"a4","g":"H","c":"u","t":16,"s":87},{"p":"a4","g":"H","c":"u","t":18,"s":82},{"p":"a4","g":"H","c":"u","t":20,"s":76},{"p":"a4","g":"H","c":"u","t":23,"s":71.5},{"p":"a4","g":"H","c":"u","t":26,"s":67.5},{"p":"a4","g":"H","c":"u","t":30,"s":65},{"p":"a4","g":"H","c":"u","t":33,"s":61},{"p":"a4","g":"H","c":"u","t":36,"s":59},{"p":"a4","g":"H","c":"u","t":40,"s":58},{"p":"a4","g":"H","c":"u","t":45,"s":56},{"p":"a4","g":"H","c":"u","t":50,"s":55},{"p":"a4","g":"H","c":"u","t":55,"s":54},{"p":"a4","g":"H","c":"u","t":60,"s":53.5},{"p":"a4","g":"H","c":"u","t":94,"s":53.5},
{"p":"a4","g":"H","c":"l","t":0,"s":100},{"p":"a4","g":"H","c":"l","t":4,"s":96},{"p":"a4","g":"H","c":"l","t":8,"s":91},{"p":"a4","g":"H","c":"l","t":12,"s":85},{"p":"a4","g":"H","c":"l","t":15,"s":78.5},{"p":"a4","g":"H","c":"l","t":17,"s":73},{"p":"a4","g":"H","c":"l","t":19,"s":67.5},{"p":"a4","g":"H","c":"l","t":21,"s":64},{"p":"a4","g":"H","c":"l","t":24,"s":60.5},{"p":"a4","g":"H","c":"l","t":28,"s":56},{"p":"a4","g":"H","c":"l","t":32,"s":53},{"p":"a4","g":"H","c":"l","t":35,"s":50.5},{"p":"a4","g":"H","c":"l","t":40,"s":49},{"p":"a4","g":"H","c":"l","t":45,"s":47.5},{"p":"a4","g":"H","c":"l","t":50,"s":46},{"p":"a4","g":"H","c":"l","t":55,"s":45},{"p":"a4","g":"H","c":"l","t":60,"s":43},{"p":"a4","g":"H","c":"l","t":94,"s":43},

{"p":"b1","g":"L","c":"e","t":0,"s":100},{"p":"b1","g":"L","c":"e","t":13,"s":98.5},{"p":"b1","g":"L","c":"e","t":38,"s":97.5},{"p":"b1","g":"L","c":"e","t":42,"s":96},{"p":"b1","g":"L","c":"e","t":52,"s":94},{"p":"b1","g":"L","c":"e","t":55,"s":92},{"p":"b1","g":"L","c":"e","t":58,"s":90},{"p":"b1","g":"L","c":"e","t":66,"s":88.5},{"p":"b1","g":"L","c":"e","t":69,"s":86},{"p":"b1","g":"L","c":"e","t":71,"s":83.5},{"p":"b1","g":"L","c":"e","t":72,"s":82.5},{"p":"b1","g":"L","c":"e","t":78,"s":77},{"p":"b1","g":"L","c":"e","t":115,"s":77},
{"p":"b1","g":"M","c":"e","t":0,"s":100},{"p":"b1","g":"M","c":"e","t":5,"s":98},{"p":"b1","g":"M","c":"e","t":7,"s":96},{"p":"b1","g":"M","c":"e","t":10,"s":93},{"p":"b1","g":"M","c":"e","t":12,"s":90},{"p":"b1","g":"M","c":"e","t":14,"s":88},{"p":"b1","g":"M","c":"e","t":16,"s":86},{"p":"b1","g":"M","c":"e","t":18,"s":84},{"p":"b1","g":"M","c":"e","t":21,"s":82},{"p":"b1","g":"M","c":"e","t":25,"s":80},{"p":"b1","g":"M","c":"e","t":33,"s":78},{"p":"b1","g":"M","c":"e","t":35,"s":75},{"p":"b1","g":"M","c":"e","t":39,"s":72},{"p":"b1","g":"M","c":"e","t":44,"s":70},{"p":"b1","g":"M","c":"e","t":48,"s":68},{"p":"b1","g":"M","c":"e","t":51,"s":66},{"p":"b1","g":"M","c":"e","t":55,"s":64},{"p":"b1","g":"M","c":"e","t":93,"s":64},
{"p":"b1","g":"H","c":"e","t":0,"s":100},{"p":"b1","g":"H","c":"e","t":7,"s":98},{"p":"b1","g":"H","c":"e","t":10,"s":96},{"p":"b1","g":"H","c":"e","t":12,"s":93},{"p":"b1","g":"H","c":"e","t":13,"s":88},{"p":"b1","g":"H","c":"e","t":14,"s":82},{"p":"b1","g":"H","c":"e","t":15,"s":79},{"p":"b1","g":"H","c":"e","t":17,"s":75},{"p":"b1","g":"H","c":"e","t":19,"s":72},{"p":"b1","g":"H","c":"e","t":21,"s":69},{"p":"b1","g":"H","c":"e","t":23,"s":66},{"p":"b1","g":"H","c":"e","t":25,"s":63},{"p":"b1","g":"H","c":"e","t":28,"s":60},{"p":"b1","g":"H","c":"e","t":31,"s":57.5},{"p":"b1","g":"H","c":"e","t":34,"s":56},{"p":"b1","g":"H","c":"e","t":36,"s":53},{"p":"b1","g":"H","c":"e","t":38,"s":50.5},{"p":"b1","g":"H","c":"e","t":44,"s":49.5},{"p":"b1","g":"H","c":"e","t":47,"s":48},{"p":"b1","g":"H","c":"e","t":50,"s":46},{"p":"b1","g":"H","c":"e","t":53,"s":44},{"p":"b1","g":"H","c":"e","t":58,"s":43.5},{"p":"b1","g":"H","c":"e","t":66,"s":42},{"p":"b1","g":"H","c":"e","t":67,"s":38.5},{"p":"b1","g":"H","c":"e","t":104,"s":38.5},
{"p":"b1","g":"L","c":"u","t":0,"s":100},{"p":"b1","g":"L","c":"u","t":40,"s":100},{"p":"b1","g":"L","c":"u","t":45,"s":98.5},{"p":"b1","g":"L","c":"u","t":50,"s":97},{"p":"b1","g":"L","c":"u","t":55,"s":96},{"p":"b1","g":"L","c":"u","t":60,"s":94.5},{"p":"b1","g":"L","c":"u","t":65,"s":93},{"p":"b1","g":"L","c":"u","t":70,"s":91.5},{"p":"b1","g":"L","c":"u","t":75,"s":90},{"p":"b1","g":"L","c":"u","t":78,"s":88.5},{"p":"b1","g":"L","c":"u","t":115,"s":88.5},
{"p":"b1","g":"L","c":"l","t":0,"s":100},{"p":"b1","g":"L","c":"l","t":12,"s":96},{"p":"b1","g":"L","c":"l","t":16,"s":93.5},{"p":"b1","g":"L","c":"l","t":25,"s":92},{"p":"b1","g":"L","c":"l","t":35,"s":91},{"p":"b1","g":"L","c":"l","t":40,"s":89},{"p":"b1","g":"L","c":"l","t":44,"s":87},{"p":"b1","g":"L","c":"l","t":48,"s":84},{"p":"b1","g":"L","c":"l","t":53,"s":81},{"p":"b1","g":"L","c":"l","t":57,"s":78},{"p":"b1","g":"L","c":"l","t":62,"s":75},{"p":"b1","g":"L","c":"l","t":66,"s":72},{"p":"b1","g":"L","c":"l","t":70,"s":68},{"p":"b1","g":"L","c":"l","t":73,"s":64},{"p":"b1","g":"L","c":"l","t":78,"s":57},{"p":"b1","g":"L","c":"l","t":115,"s":57},
{"p":"b1","g":"M","c":"u","t":0,"s":100},{"p":"b1","g":"M","c":"u","t":10,"s":99},{"p":"b1","g":"M","c":"u","t":13,"s":97.5},{"p":"b1","g":"M","c":"u","t":16,"s":95.5},{"p":"b1","g":"M","c":"u","t":19,"s":93.5},{"p":"b1","g":"M","c":"u","t":23,"s":91.5},{"p":"b1","g":"M","c":"u","t":28,"s":90},{"p":"b1","g":"M","c":"u","t":34,"s":88},{"p":"b1","g":"M","c":"u","t":38,"s":85.5},{"p":"b1","g":"M","c":"u","t":42,"s":84},{"p":"b1","g":"M","c":"u","t":46,"s":82.5},{"p":"b1","g":"M","c":"u","t":50,"s":80.5},{"p":"b1","g":"M","c":"u","t":55,"s":77},{"p":"b1","g":"M","c":"u","t":58,"s":74},{"p":"b1","g":"M","c":"u","t":92,"s":74},
{"p":"b1","g":"M","c":"l","t":3,"s":93},{"p":"b1","g":"M","c":"l","t":7,"s":91},{"p":"b1","g":"M","c":"l","t":10,"s":87},{"p":"b1","g":"M","c":"l","t":13,"s":82},{"p":"b1","g":"M","c":"l","t":16,"s":78},{"p":"b1","g":"M","c":"l","t":19,"s":74},{"p":"b1","g":"M","c":"l","t":22,"s":71},{"p":"b1","g":"M","c":"l","t":26,"s":68},{"p":"b1","g":"M","c":"l","t":31,"s":65},{"p":"b1","g":"M","c":"l","t":35,"s":62},{"p":"b1","g":"M","c":"l","t":39,"s":59},{"p":"b1","g":"M","c":"l","t":43,"s":57},{"p":"b1","g":"M","c":"l","t":47,"s":55},{"p":"b1","g":"M","c":"l","t":51,"s":53},{"p":"b1","g":"M","c":"l","t":55,"s":51},{"p":"b1","g":"M","c":"l","t":92,"s":51},
{"p":"b1","g":"H","c":"u","t":0,"s":100},{"p":"b1","g":"H","c":"u","t":9,"s":99},{"p":"b1","g":"H","c":"u","t":11,"s":97},{"p":"b1","g":"H","c":"u","t":13,"s":94},{"p":"b1","g":"H","c":"u","t":14,"s":91},{"p":"b1","g":"H","c":"u","t":16,"s":88},{"p":"b1","g":"H","c":"u","t":19,"s":84},{"p":"b1","g":"H","c":"u","t":22,"s":80},{"p":"b1","g":"H","c":"u","t":25,"s":77},{"p":"b1","g":"H","c":"u","t":28,"s":73.5},{"p":"b1","g":"H","c":"u","t":32,"s":70},{"p":"b1","g":"H","c":"u","t":36,"s":66.5},{"p":"b1","g":"H","c":"u","t":40,"s":63},{"p":"b1","g":"H","c":"u","t":44,"s":61},{"p":"b1","g":"H","c":"u","t":48,"s":58},{"p":"b1","g":"H","c":"u","t":52,"s":55},{"p":"b1","g":"H","c":"u","t":56,"s":53},{"p":"b1","g":"H","c":"u","t":60,"s":51.5},{"p":"b1","g":"H","c":"u","t":66,"s":50},{"p":"b1","g":"H","c":"u","t":103,"s":50},
{"p":"b1","g":"H","c":"l","t":2,"s":92},{"p":"b1","g":"H","c":"l","t":10,"s":86},{"p":"b1","g":"H","c":"l","t":12,"s":80},{"p":"b1","g":"H","c":"l","t":13,"s":73},{"p":"b1","g":"H","c":"l","t":15,"s":66},{"p":"b1","g":"H","c":"l","t":18,"s":60},{"p":"b1","g":"H","c":"l","t":21,"s":56},{"p":"b1","g":"H","c":"l","t":24,"s":51},{"p":"b1","g":"H","c":"l","t":28,"s":46},{"p":"b1","g":"H","c":"l","t":32,"s":42},{"p":"b1","g":"H","c":"l","t":36,"s":39},{"p":"b1","g":"H","c":"l","t":40,"s":37},{"p":"b1","g":"H","c":"l","t":44,"s":35.5},{"p":"b1","g":"H","c":"l","t":48,"s":33.5},{"p":"b1","g":"H","c":"l","t":52,"s":32.5},{"p":"b1","g":"H","c":"l","t":57,"s":31.5},{"p":"b1","g":"H","c":"l","t":62,"s":30},{"p":"b1","g":"H","c":"l","t":65,"s":28},{"p":"b1","g":"H","c":"l","t":67,"s":26.5},{"p":"b1","g":"H","c":"l","t":104,"s":26.5},

{"p":"b2","g":"L","c":"e","t":0,"s":100},{"p":"b2","g":"L","c":"e","t":10,"s":97.5},{"p":"b2","g":"L","c":"e","t":36,"s":94.5},{"p":"b2","g":"L","c":"e","t":38,"s":92.5},{"p":"b2","g":"L","c":"e","t":41,"s":91},{"p":"b2","g":"L","c":"e","t":43,"s":88.5},{"p":"b2","g":"L","c":"e","t":46,"s":85.5},{"p":"b2","g":"L","c":"e","t":53,"s":82.5},{"p":"b2","g":"L","c":"e","t":56,"s":80},{"p":"b2","g":"L","c":"e","t":57,"s":78.5},{"p":"b2","g":"L","c":"e","t":101,"s":78.5},
{"p":"b2","g":"M","c":"e","t":0,"s":100},{"p":"b2","g":"M","c":"e","t":7,"s":93},{"p":"b2","g":"M","c":"e","t":10,"s":87},{"p":"b2","g":"M","c":"e","t":14,"s":83},{"p":"b2","g":"M","c":"e","t":16,"s":79},{"p":"b2","g":"M","c":"e","t":18,"s":76},{"p":"b2","g":"M","c":"e","t":21,"s":75},{"p":"b2","g":"M","c":"e","t":28,"s":73.5},{"p":"b2","g":"M","c":"e","t":34,"s":72},{"p":"b2","g":"M","c":"e","t":38,"s":69.5},{"p":"b2","g":"M","c":"e","t":42,"s":68.5},{"p":"b2","g":"M","c":"e","t":47,"s":67.5},{"p":"b2","g":"M","c":"e","t":52,"s":66},{"p":"b2","g":"M","c":"e","t":56,"s":64.5},{"p":"b2","g":"M","c":"e","t":58,"s":63},{"p":"b2","g":"M","c":"e","t":62,"s":60.5},{"p":"b2","g":"M","c":"e","t":65,"s":58.5},{"p":"b2","g":"M","c":"e","t":67,"s":56},{"p":"b2","g":"M","c":"e","t":69,"s":55},{"p":"b2","g":"M","c":"e","t":79,"s":41},{"p":"b2","g":"M","c":"e","t":108,"s":41},
{"p":"b2","g":"H","c":"e","t":0,"s":100},{"p":"b2","g":"H","c":"e","t":6.5,"s":93},{"p":"b2","g":"H","c":"e","t":8,"s":86},{"p":"b2","g":"H","c":"e","t":10,"s":80},{"p":"b2","g":"H","c":"e","t":12,"s":76},{"p":"b2","g":"H","c":"e","t":14,"s":72},{"p":"b2","g":"H","c":"e","t":16,"s":68},{"p":"b2","g":"H","c":"e","t":19,"s":64},{"p":"b2","g":"H","c":"e","t":21,"s":61},{"p":"b2","g":"H","c":"e","t":24,"s":57},{"p":"b2","g":"H","c":"e","t":28,"s":55},{"p":"b2","g":"H","c":"e","t":33,"s":54},{"p":"b2","g":"H","c":"e","t":37,"s":51},{"p":"b2","g":"H","c":"e","t":40,"s":47},{"p":"b2","g":"H","c":"e","t":44,"s":44},{"p":"b2","g":"H","c":"e","t":47,"s":40},{"p":"b2","g":"H","c":"e","t":50,"s":37},{"p":"b2","g":"H","c":"e","t":55,"s":34},{"p":"b2","g":"H","c":"e","t":58,"s":31},{"p":"b2","g":"H","c":"e","t":63,"s":29},{"p":"b2","g":"H","c":"e","t":70,"s":27},{"p":"b2","g":"H","c":"e","t":73,"s":26},{"p":"b2","g":"H","c":"e","t":79,"s":20.5},{"p":"b2","g":"H","c":"e","t":102,"s":20.5},
{"p":"b2","g":"L","c":"u","t":0,"s":100},{"p":"b2","g":"L","c":"u","t":35,"s":100},{"p":"b2","g":"L","c":"u","t":38,"s":98.5},{"p":"b2","g":"L","c":"u","t":42,"s":96},{"p":"b2","g":"L","c":"u","t":46,"s":93.5},{"p":"b2","g":"L","c":"u","t":50,"s":91.5},{"p":"b2","g":"L","c":"u","t":57,"s":89},{"p":"b2","g":"L","c":"u","t":100,"s":89},
{"p":"b2","g":"L","c":"l","t":0,"s":100},{"p":"b2","g":"L","c":"l","t":10,"s":88},{"p":"b2","g":"L","c":"l","t":14,"s":84},{"p":"b2","g":"L","c":"l","t":20,"s":82},{"p":"b2","g":"L","c":"l","t":30,"s":80},{"p":"b2","g":"L","c":"l","t":36,"s":77},{"p":"b2","g":"L","c":"l","t":38,"s":73},{"p":"b2","g":"L","c":"l","t":41,"s":69},{"p":"b2","g":"L","c":"l","t":44,"s":66},{"p":"b2","g":"L","c":"l","t":47,"s":63},{"p":"b2","g":"L","c":"l","t":52,"s":61},{"p":"b2","g":"L","c":"l","t":57,"s":58.5},{"p":"b2","g":"L","c":"l","t":100,"s":58.5},
{"p":"b2","g":"M","c":"u","t":0,"s":100},{"p":"b2","g":"M","c":"u","t":8,"s":99},{"p":"b2","g":"M","c":"u","t":11,"s":95},{"p":"b2","g":"M","c":"u","t":14,"s":91},{"p":"b2","g":"M","c":"u","t":17,"s":87},{"p":"b2","g":"M","c":"u","t":20,"s":84.5},{"p":"b2","g":"M","c":"u","t":25,"s":83},{"p":"b2","g":"M","c":"u","t":32,"s":81.5},{"p":"b2","g":"M","c":"u","t":36,"s":80},{"p":"b2","g":"M","c":"u","t":40,"s":78},{"p":"b2","g":"M","c":"u","t":45,"s":77},{"p":"b2","g":"M","c":"u","t":50,"s":75.5},{"p":"b2","g":"M","c":"u","t":55,"s":74},{"p":"b2","g":"M","c":"u","t":60,"s":72},{"p":"b2","g":"M","c":"u","t":63,"s":70},{"p":"b2","g":"M","c":"u","t":67,"s":67},{"p":"b2","g":"M","c":"u","t":70,"s":65.5},{"p":"b2","g":"M","c":"u","t":79,"s":65},{"p":"b2","g":"M","c":"u","t":108,"s":65},
{"p":"b2","g":"M","c":"l","t":0,"s":100},{"p":"b2","g":"M","c":"l","t":6,"s":88},{"p":"b2","g":"M","c":"l","t":9,"s":80},{"p":"b2","g":"M","c":"l","t":12,"s":74},{"p":"b2","g":"M","c":"l","t":15,"s":68},{"p":"b2","g":"M","c":"l","t":18,"s":64},{"p":"b2","g":"M","c":"l","t":21,"s":62},{"p":"b2","g":"M","c":"l","t":27,"s":60},{"p":"b2","g":"M","c":"l","t":32,"s":58},{"p":"b2","g":"M","c":"l","t":36,"s":56},{"p":"b2","g":"M","c":"l","t":40,"s":54},{"p":"b2","g":"M","c":"l","t":45,"s":52},{"p":"b2","g":"M","c":"l","t":50,"s":50},{"p":"b2","g":"M","c":"l","t":55,"s":48},{"p":"b2","g":"M","c":"l","t":60,"s":45},{"p":"b2","g":"M","c":"l","t":64,"s":43},{"p":"b2","g":"M","c":"l","t":67,"s":40},{"p":"b2","g":"M","c":"l","t":70,"s":38},{"p":"b2","g":"M","c":"l","t":79,"s":16.5},{"p":"b2","g":"M","c":"l","t":108,"s":16.5},
{"p":"b2","g":"H","c":"u","t":0,"s":100},{"p":"b2","g":"H","c":"u","t":7,"s":99},{"p":"b2","g":"H","c":"u","t":9,"s":96},{"p":"b2","g":"H","c":"u","t":11,"s":92},{"p":"b2","g":"H","c":"u","t":13,"s":88},{"p":"b2","g":"H","c":"u","t":15,"s":84},{"p":"b2","g":"H","c":"u","t":18,"s":79},{"p":"b2","g":"H","c":"u","t":21,"s":75},{"p":"b2","g":"H","c":"u","t":24,"s":71},{"p":"b2","g":"H","c":"u","t":28,"s":68},{"p":"b2","g":"H","c":"u","t":32,"s":66},{"p":"b2","g":"H","c":"u","t":36,"s":64},{"p":"b2","g":"H","c":"u","t":40,"s":60},{"p":"b2","g":"H","c":"u","t":44,"s":57},{"p":"b2","g":"H","c":"u","t":47,"s":53},{"p":"b2","g":"H","c":"u","t":50,"s":50},{"p":"b2","g":"H","c":"u","t":55,"s":46},{"p":"b2","g":"H","c":"u","t":58,"s":43},{"p":"b2","g":"H","c":"u","t":63,"s":40},{"p":"b2","g":"H","c":"u","t":70,"s":38},{"p":"b2","g":"H","c":"u","t":79,"s":36},{"p":"b2","g":"H","c":"u","t":100,"s":36},
{"p":"b2","g":"H","c":"l","t":0,"s":100},{"p":"b2","g":"H","c":"l","t":5,"s":90},{"p":"b2","g":"H","c":"l","t":7,"s":84},{"p":"b2","g":"H","c":"l","t":9,"s":76},{"p":"b2","g":"H","c":"l","t":11,"s":68},{"p":"b2","g":"H","c":"l","t":13,"s":62},{"p":"b2","g":"H","c":"l","t":16,"s":56},{"p":"b2","g":"H","c":"l","t":19,"s":51},{"p":"b2","g":"H","c":"l","t":22,"s":46},{"p":"b2","g":"H","c":"l","t":26,"s":43},{"p":"b2","g":"H","c":"l","t":30,"s":41},{"p":"b2","g":"H","c":"l","t":34,"s":39.5},{"p":"b2","g":"H","c":"l","t":37,"s":37},{"p":"b2","g":"H","c":"l","t":40,"s":33},{"p":"b2","g":"H","c":"l","t":43,"s":30},{"p":"b2","g":"H","c":"l","t":46,"s":27},{"p":"b2","g":"H","c":"l","t":50,"s":24},{"p":"b2","g":"H","c":"l","t":55,"s":21},{"p":"b2","g":"H","c":"l","t":60,"s":18.5},{"p":"b2","g":"H","c":"l","t":68,"s":16},{"p":"b2","g":"H","c":"l","t":74,"s":13},{"p":"b2","g":"H","c":"l","t":79,"s":8},{"p":"b2","g":"H","c":"l","t":100,"s":8},

{"p":"b3","g":"L","c":"e","t":0,"s":100},{"p":"b3","g":"L","c":"e","t":3,"s":99},{"p":"b3","g":"L","c":"e","t":5,"s":98},{"p":"b3","g":"L","c":"e","t":7,"s":96.5},{"p":"b3","g":"L","c":"e","t":9,"s":95},{"p":"b3","g":"L","c":"e","t":11,"s":94},{"p":"b3","g":"L","c":"e","t":13,"s":92.5},{"p":"b3","g":"L","c":"e","t":15,"s":91},{"p":"b3","g":"L","c":"e","t":18,"s":89.5},{"p":"b3","g":"L","c":"e","t":21,"s":88},{"p":"b3","g":"L","c":"e","t":24,"s":86},{"p":"b3","g":"L","c":"e","t":27,"s":84.5},{"p":"b3","g":"L","c":"e","t":30,"s":83},{"p":"b3","g":"L","c":"e","t":33,"s":81.5},{"p":"b3","g":"L","c":"e","t":36,"s":80},{"p":"b3","g":"L","c":"e","t":39,"s":78},{"p":"b3","g":"L","c":"e","t":42,"s":76.5},{"p":"b3","g":"L","c":"e","t":45,"s":75},{"p":"b3","g":"L","c":"e","t":48,"s":73.5},{"p":"b3","g":"L","c":"e","t":51,"s":72},{"p":"b3","g":"L","c":"e","t":54,"s":70},{"p":"b3","g":"L","c":"e","t":57,"s":69},{"p":"b3","g":"L","c":"e","t":91.5,"s":69},
{"p":"b3","g":"M","c":"e","t":0,"s":100},{"p":"b3","g":"M","c":"e","t":2,"s":98},{"p":"b3","g":"M","c":"e","t":4,"s":96.5},{"p":"b3","g":"M","c":"e","t":6,"s":94.5},{"p":"b3","g":"M","c":"e","t":8,"s":92.5},{"p":"b3","g":"M","c":"e","t":10,"s":91},{"p":"b3","g":"M","c":"e","t":13,"s":89},{"p":"b3","g":"M","c":"e","t":16,"s":87},{"p":"b3","g":"M","c":"e","t":19,"s":85},{"p":"b3","g":"M","c":"e","t":22,"s":83},{"p":"b3","g":"M","c":"e","t":25,"s":81},{"p":"b3","g":"M","c":"e","t":28,"s":79},{"p":"b3","g":"M","c":"e","t":31,"s":77.5},{"p":"b3","g":"M","c":"e","t":34,"s":75.5},{"p":"b3","g":"M","c":"e","t":37,"s":73},{"p":"b3","g":"M","c":"e","t":40,"s":71},{"p":"b3","g":"M","c":"e","t":43,"s":69.5},{"p":"b3","g":"M","c":"e","t":46,"s":67.5},{"p":"b3","g":"M","c":"e","t":49,"s":66},{"p":"b3","g":"M","c":"e","t":52,"s":64.5},{"p":"b3","g":"M","c":"e","t":55,"s":62.5},{"p":"b3","g":"M","c":"e","t":58,"s":61},{"p":"b3","g":"M","c":"e","t":63,"s":60},{"p":"b3","g":"M","c":"e","t":68,"s":58.5},{"p":"b3","g":"M","c":"e","t":70.5,"s":53.5},{"p":"b3","g":"M","c":"e","t":90.5,"s":53.5},
{"p":"b3","g":"H","c":"e","t":0,"s":100},{"p":"b3","g":"H","c":"e","t":2,"s":97},{"p":"b3","g":"H","c":"e","t":4,"s":94},{"p":"b3","g":"H","c":"e","t":6,"s":90.5},{"p":"b3","g":"H","c":"e","t":7,"s":88},{"p":"b3","g":"H","c":"e","t":8,"s":86},{"p":"b3","g":"H","c":"e","t":9,"s":83},{"p":"b3","g":"H","c":"e","t":10,"s":80},{"p":"b3","g":"H","c":"e","t":11.5,"s":77},{"p":"b3","g":"H","c":"e","t":13,"s":75},{"p":"b3","g":"H","c":"e","t":15,"s":71},{"p":"b3","g":"H","c":"e","t":17,"s":68},{"p":"b3","g":"H","c":"e","t":19,"s":66},{"p":"b3","g":"H","c":"e","t":21,"s":63},{"p":"b3","g":"H","c":"e","t":23,"s":60.5},{"p":"b3","g":"H","c":"e","t":25,"s":58},{"p":"b3","g":"H","c":"e","t":27,"s":56.5},{"p":"b3","g":"H","c":"e","t":30,"s":55},{"p":"b3","g":"H","c":"e","t":33,"s":54},{"p":"b3","g":"H","c":"e","t":35,"s":51.5},{"p":"b3","g":"H","c":"e","t":37,"s":50},{"p":"b3","g":"H","c":"e","t":39,"s":48.5},{"p":"b3","g":"H","c":"e","t":42,"s":46},{"p":"b3","g":"H","c":"e","t":45,"s":45},{"p":"b3","g":"H","c":"e","t":48,"s":44.5},{"p":"b3","g":"H","c":"e","t":52,"s":44},{"p":"b3","g":"H","c":"e","t":56,"s":43.5},{"p":"b3","g":"H","c":"e","t":60,"s":42.5},{"p":"b3","g":"H","c":"e","t":62.5,"s":41},{"p":"b3","g":"H","c":"e","t":64.5,"s":38.5},{"p":"b3","g":"H","c":"e","t":91.5,"s":38.5},
{"p":"b3","g":"L","c":"u","t":0,"s":100},{"p":"b3","g":"L","c":"u","t":6,"s":99.5},{"p":"b3","g":"L","c":"u","t":10,"s":98.5},{"p":"b3","g":"L","c":"u","t":15,"s":96.5},{"p":"b3","g":"L","c":"u","t":20,"s":94},{"p":"b3","g":"L","c":"u","t":25,"s":92},{"p":"b3","g":"L","c":"u","t":30,"s":90},{"p":"b3","g":"L","c":"u","t":35,"s":88},{"p":"b3","g":"L","c":"u","t":40,"s":85.5},{"p":"b3","g":"L","c":"u","t":45,"s":83},{"p":"b3","g":"L","c":"u","t":50,"s":80},{"p":"b3","g":"L","c":"u","t":55,"s":76},{"p":"b3","g":"L","c":"u","t":58,"s":75},{"p":"b3","g":"L","c":"u","t":91.5,"s":75},
{"p":"b3","g":"L","c":"l","t":0,"s":100},{"p":"b3","g":"L","c":"l","t":5,"s":96},{"p":"b3","g":"L","c":"l","t":8,"s":93},{"p":"b3","g":"L","c":"l","t":12,"s":89.5},{"p":"b3","g":"L","c":"l","t":16,"s":86.5},{"p":"b3","g":"L","c":"l","t":20,"s":83.5},{"p":"b3","g":"L","c":"l","t":25,"s":80.5},{"p":"b3","g":"L","c":"l","t":30,"s":77.5},{"p":"b3","g":"L","c":"l","t":35,"s":74.5},{"p":"b3","g":"L","c":"l","t":40,"s":71},{"p":"b3","g":"L","c":"l","t":45,"s":67.5},{"p":"b3","g":"L","c":"l","t":50,"s":64.5},{"p":"b3","g":"L","c":"l","t":55,"s":62},{"p":"b3","g":"L","c":"l","t":58,"s":61.5},{"p":"b3","g":"L","c":"l","t":91,"s":61.5},
{"p":"b3","g":"M","c":"u","t":0,"s":100},{"p":"b3","g":"M","c":"u","t":4,"s":99},{"p":"b3","g":"M","c":"u","t":8,"s":97},{"p":"b3","g":"M","c":"u","t":12,"s":95},{"p":"b3","g":"M","c":"u","t":16,"s":93},{"p":"b3","g":"M","c":"u","t":20,"s":91},{"p":"b3","g":"M","c":"u","t":25,"s":88.5},{"p":"b3","g":"M","c":"u","t":30,"s":86},{"p":"b3","g":"M","c":"u","t":35,"s":83},{"p":"b3","g":"M","c":"u","t":40,"s":79},{"p":"b3","g":"M","c":"u","t":45,"s":76},{"p":"b3","g":"M","c":"u","t":50,"s":73},{"p":"b3","g":"M","c":"u","t":55,"s":70},{"p":"b3","g":"M","c":"u","t":60,"s":66.5},{"p":"b3","g":"M","c":"u","t":68,"s":65},{"p":"b3","g":"M","c":"u","t":70.5,"s":59},{"p":"b3","g":"M","c":"u","t":90.5,"s":59},
{"p":"b3","g":"M","c":"l","t":0,"s":100},{"p":"b3","g":"M","c":"l","t":3,"s":94},{"p":"b3","g":"M","c":"l","t":6,"s":90},{"p":"b3","g":"M","c":"l","t":10,"s":86},{"p":"b3","g":"M","c":"l","t":14,"s":83},{"p":"b3","g":"M","c":"l","t":18,"s":79},{"p":"b3","g":"M","c":"l","t":22,"s":76},{"p":"b3","g":"M","c":"l","t":26,"s":73},{"p":"b3","g":"M","c":"l","t":30,"s":70},{"p":"b3","g":"M","c":"l","t":35,"s":67},{"p":"b3","g":"M","c":"l","t":40,"s":63},{"p":"b3","g":"M","c":"l","t":45,"s":60},{"p":"b3","g":"M","c":"l","t":50,"s":57.5},{"p":"b3","g":"M","c":"l","t":55,"s":54},{"p":"b3","g":"M","c":"l","t":60,"s":52},{"p":"b3","g":"M","c":"l","t":65,"s":51},{"p":"b3","g":"M","c":"l","t":68,"s":49.5},{"p":"b3","g":"M","c":"l","t":70.5,"s":43},{"p":"b3","g":"M","c":"l","t":90.5,"s":43},
{"p":"b3","g":"H","c":"u","t":0,"s":100},{"p":"b3","g":"H","c":"u","t":3,"s":99},{"p":"b3","g":"H","c":"u","t":6,"s":96},{"p":"b3","g":"H","c":"u","t":8,"s":92},{"p":"b3","g":"H","c":"u","t":10,"s":88},{"p":"b3","g":"H","c":"u","t":13,"s":83},{"p":"b3","g":"H","c":"u","t":16,"s":77},{"p":"b3","g":"H","c":"u","t":19,"s":72},{"p":"b3","g":"H","c":"u","t":22,"s":68},{"p":"b3","g":"H","c":"u","t":26,"s":64},{"p":"b3","g":"H","c":"u","t":30,"s":61},{"p":"b3","g":"H","c":"u","t":34,"s":59},{"p":"b3","g":"H","c":"u","t":38,"s":56.5},{"p":"b3","g":"H","c":"u","t":42,"s":53},{"p":"b3","g":"H","c":"u","t":46,"s":51},{"p":"b3","g":"H","c":"u","t":50,"s":50.5},{"p":"b3","g":"H","c":"u","t":55,"s":50},{"p":"b3","g":"H","c":"u","t":60,"s":49},{"p":"b3","g":"H","c":"u","t":64,"s":46},{"p":"b3","g":"H","c":"u","t":91,"s":46},
{"p":"b3","g":"H","c":"l","t":0,"s":100},{"p":"b3","g":"H","c":"l","t":2,"s":93},{"p":"b3","g":"H","c":"l","t":4,"s":89},{"p":"b3","g":"H","c":"l","t":6,"s":85},{"p":"b3","g":"H","c":"l","t":8,"s":79},{"p":"b3","g":"H","c":"l","t":10,"s":72},{"p":"b3","g":"H","c":"l","t":12,"s":67},{"p":"b3","g":"H","c":"l","t":14,"s":63},{"p":"b3","g":"H","c":"l","t":16,"s":59},{"p":"b3","g":"H","c":"l","t":19,"s":55},{"p":"b3","g":"H","c":"l","t":22,"s":52},{"p":"b3","g":"H","c":"l","t":26,"s":48.5},{"p":"b3","g":"H","c":"l","t":30,"s":46},{"p":"b3","g":"H","c":"l","t":34,"s":43.5},{"p":"b3","g":"H","c":"l","t":38,"s":41},{"p":"b3","g":"H","c":"l","t":42,"s":39},{"p":"b3","g":"H","c":"l","t":46,"s":37.5},{"p":"b3","g":"H","c":"l","t":50,"s":36.5},{"p":"b3","g":"H","c":"l","t":55,"s":35.5},{"p":"b3","g":"H","c":"l","t":60,"s":34},{"p":"b3","g":"H","c":"l","t":64,"s":30.5},{"p":"b3","g":"H","c":"l","t":91,"s":30.5},

{"p":"b4","g":"L","c":"e","t":0,"s":100},{"p":"b4","g":"L","c":"e","t":3,"s":99.5},{"p":"b4","g":"L","c":"e","t":6,"s":98.5},{"p":"b4","g":"L","c":"e","t":9,"s":97.5},{"p":"b4","g":"L","c":"e","t":12,"s":96.5},{"p":"b4","g":"L","c":"e","t":15,"s":95},{"p":"b4","g":"L","c":"e","t":18,"s":94},{"p":"b4","g":"L","c":"e","t":21,"s":92.5},{"p":"b4","g":"L","c":"e","t":24,"s":91},{"p":"b4","g":"L","c":"e","t":27,"s":89.5},{"p":"b4","g":"L","c":"e","t":30,"s":88},{"p":"b4","g":"L","c":"e","t":33,"s":87},{"p":"b4","g":"L","c":"e","t":36,"s":85.5},{"p":"b4","g":"L","c":"e","t":39,"s":84.5},{"p":"b4","g":"L","c":"e","t":42,"s":83},{"p":"b4","g":"L","c":"e","t":45,"s":82},{"p":"b4","g":"L","c":"e","t":48,"s":81},{"p":"b4","g":"L","c":"e","t":51,"s":80.5},{"p":"b4","g":"L","c":"e","t":54,"s":79.5},{"p":"b4","g":"L","c":"e","t":57,"s":78.5},{"p":"b4","g":"L","c":"e","t":60,"s":78},{"p":"b4","g":"L","c":"e","t":64,"s":77.5},{"p":"b4","g":"L","c":"e","t":68,"s":77},{"p":"b4","g":"L","c":"e","t":71,"s":76},{"p":"b4","g":"L","c":"e","t":94.5,"s":76},
{"p":"b4","g":"M","c":"e","t":0,"s":100},{"p":"b4","g":"M","c":"e","t":4,"s":99.5},{"p":"b4","g":"M","c":"e","t":7,"s":98.5},{"p":"b4","g":"M","c":"e","t":10,"s":96.5},{"p":"b4","g":"M","c":"e","t":13,"s":94},{"p":"b4","g":"M","c":"e","t":16,"s":91.5},{"p":"b4","g":"M","c":"e","t":19,"s":90},{"p":"b4","g":"M","c":"e","t":22,"s":88.5},{"p":"b4","g":"M","c":"e","t":25,"s":86.5},{"p":"b4","g":"M","c":"e","t":28,"s":84},{"p":"b4","g":"M","c":"e","t":31,"s":82},{"p":"b4","g":"M","c":"e","t":34,"s":79.5},{"p":"b4","g":"M","c":"e","t":37,"s":77},{"p":"b4","g":"M","c":"e","t":40,"s":75},{"p":"b4","g":"M","c":"e","t":43,"s":73.5},{"p":"b4","g":"M","c":"e","t":46,"s":72},{"p":"b4","g":"M","c":"e","t":49,"s":71},{"p":"b4","g":"M","c":"e","t":52,"s":70},{"p":"b4","g":"M","c":"e","t":55,"s":69},{"p":"b4","g":"M","c":"e","t":58,"s":67.5},{"p":"b4","g":"M","c":"e","t":61,"s":66.5},{"p":"b4","g":"M","c":"e","t":64,"s":65.5},{"p":"b4","g":"M","c":"e","t":67,"s":65},{"p":"b4","g":"M","c":"e","t":70,"s":64},{"p":"b4","g":"M","c":"e","t":89,"s":64},
{"p":"b4","g":"H","c":"e","t":0,"s":100},{"p":"b4","g":"H","c":"e","t":2,"s":99},{"p":"b4","g":"H","c":"e","t":4,"s":97.5},{"p":"b4","g":"H","c":"e","t":6,"s":96},{"p":"b4","g":"H","c":"e","t":8,"s":93.5},{"p":"b4","g":"H","c":"e","t":10,"s":91.5},{"p":"b4","g":"H","c":"e","t":12,"s":89.5},{"p":"b4","g":"H","c":"e","t":14,"s":87},{"p":"b4","g":"H","c":"e","t":16,"s":83},{"p":"b4","g":"H","c":"e","t":18,"s":79},{"p":"b4","g":"H","c":"e","t":20,"s":75.5},{"p":"b4","g":"H","c":"e","t":22,"s":71},{"p":"b4","g":"H","c":"e","t":24,"s":67},{"p":"b4","g":"H","c":"e","t":26,"s":65},{"p":"b4","g":"H","c":"e","t":28,"s":63},{"p":"b4","g":"H","c":"e","t":30,"s":61.5},{"p":"b4","g":"H","c":"e","t":32,"s":59.5},{"p":"b4","g":"H","c":"e","t":34,"s":57.5},{"p":"b4","g":"H","c":"e","t":36,"s":56},{"p":"b4","g":"H","c":"e","t":38,"s":55},{"p":"b4","g":"H","c":"e","t":41,"s":53.5},{"p":"b4","g":"H","c":"e","t":44,"s":52},{"p":"b4","g":"H","c":"e","t":48,"s":51},{"p":"b4","g":"H","c":"e","t":52,"s":50.5},{"p":"b4","g":"H","c":"e","t":56,"s":50},{"p":"b4","g":"H","c":"e","t":60,"s":49},{"p":"b4","g":"H","c":"e","t":63,"s":48},{"p":"b4","g":"H","c":"e","t":66,"s":47},{"p":"b4","g":"H","c":"e","t":70,"s":46},{"p":"b4","g":"H","c":"e","t":74,"s":45.5},{"p":"b4","g":"H","c":"e","t":94.5,"s":45.5},
{"p":"b4","g":"L","c":"u","t":0,"s":100},{"p":"b4","g":"L","c":"u","t":8,"s":99.5},{"p":"b4","g":"L","c":"u","t":12,"s":98.5},{"p":"b4","g":"L","c":"u","t":16,"s":97},{"p":"b4","g":"L","c":"u","t":20,"s":95.5},{"p":"b4","g":"L","c":"u","t":25,"s":93.5},{"p":"b4","g":"L","c":"u","t":30,"s":91.5},{"p":"b4","g":"L","c":"u","t":35,"s":89.5},{"p":"b4","g":"L","c":"u","t":40,"s":87.5},{"p":"b4","g":"L","c":"u","t":45,"s":86},{"p":"b4","g":"L","c":"u","t":50,"s":84.5},{"p":"b4","g":"L","c":"u","t":55,"s":83},{"p":"b4","g":"L","c":"u","t":60,"s":82},{"p":"b4","g":"L","c":"u","t":65,"s":81},{"p":"b4","g":"L","c":"u","t":70,"s":80.5},{"p":"b4","g":"L","c":"u","t":94.5,"s":80.5},
{"p":"b4","g":"L","c":"l","t":0,"s":100},{"p":"b4","g":"L","c":"l","t":6,"s":97},{"p":"b4","g":"L","c":"l","t":10,"s":95},{"p":"b4","g":"L","c":"l","t":14,"s":92.5},{"p":"b4","g":"L","c":"l","t":18,"s":90},{"p":"b4","g":"L","c":"l","t":22,"s":88},{"p":"b4","g":"L","c":"l","t":26,"s":86},{"p":"b4","g":"L","c":"l","t":30,"s":84},{"p":"b4","g":"L","c":"l","t":35,"s":81},{"p":"b4","g":"L","c":"l","t":40,"s":79},{"p":"b4","g":"L","c":"l","t":45,"s":77.5},{"p":"b4","g":"L","c":"l","t":50,"s":76},{"p":"b4","g":"L","c":"l","t":55,"s":74.5},{"p":"b4","g":"L","c":"l","t":60,"s":73},{"p":"b4","g":"L","c":"l","t":65,"s":71.5},{"p":"b4","g":"L","c":"l","t":70,"s":70},{"p":"b4","g":"L","c":"l","t":94.5,"s":70},
{"p":"b4","g":"M","c":"u","t":0,"s":100},{"p":"b4","g":"M","c":"u","t":8,"s":99.5},{"p":"b4","g":"M","c":"u","t":12,"s":98.5},{"p":"b4","g":"M","c":"u","t":16,"s":96},{"p":"b4","g":"M","c":"u","t":20,"s":93.5},{"p":"b4","g":"M","c":"u","t":25,"s":91},{"p":"b4","g":"M","c":"u","t":30,"s":88},{"p":"b4","g":"M","c":"u","t":35,"s":84.5},{"p":"b4","g":"M","c":"u","t":40,"s":81.5},{"p":"b4","g":"M","c":"u","t":45,"s":79},{"p":"b4","g":"M","c":"u","t":50,"s":77},{"p":"b4","g":"M","c":"u","t":55,"s":75.5},{"p":"b4","g":"M","c":"u","t":60,"s":74},{"p":"b4","g":"M","c":"u","t":65,"s":73},{"p":"b4","g":"M","c":"u","t":70,"s":72},{"p":"b4","g":"M","c":"u","t":89,"s":72},
{"p":"b4","g":"M","c":"l","t":0,"s":100},{"p":"b4","g":"M","c":"l","t":6,"s":97.5},{"p":"b4","g":"M","c":"l","t":10,"s":94},{"p":"b4","g":"M","c":"l","t":14,"s":90},{"p":"b4","g":"M","c":"l","t":18,"s":86.5},{"p":"b4","g":"M","c":"l","t":22,"s":84},{"p":"b4","g":"M","c":"l","t":26,"s":81},{"p":"b4","g":"M","c":"l","t":30,"s":78},{"p":"b4","g":"M","c":"l","t":35,"s":74},{"p":"b4","g":"M","c":"l","t":40,"s":70.5},{"p":"b4","g":"M","c":"l","t":45,"s":68},{"p":"b4","g":"M","c":"l","t":50,"s":66},{"p":"b4","g":"M","c":"l","t":55,"s":64},{"p":"b4","g":"M","c":"l","t":60,"s":62},{"p":"b4","g":"M","c":"l","t":65,"s":60},{"p":"b4","g":"M","c":"l","t":70,"s":58},{"p":"b4","g":"M","c":"l","t":74,"s":56.5},{"p":"b4","g":"M","c":"l","t":89,"s":56.5},
{"p":"b4","g":"H","c":"u","t":0,"s":100},{"p":"b4","g":"H","c":"u","t":4,"s":99.5},{"p":"b4","g":"H","c":"u","t":8,"s":97},{"p":"b4","g":"H","c":"u","t":12,"s":93},{"p":"b4","g":"H","c":"u","t":16,"s":88},{"p":"b4","g":"H","c":"u","t":20,"s":81},{"p":"b4","g":"H","c":"u","t":24,"s":74},{"p":"b4","g":"H","c":"u","t":28,"s":69},{"p":"b4","g":"H","c":"u","t":32,"s":66},{"p":"b4","g":"H","c":"u","t":36,"s":62},{"p":"b4","g":"H","c":"u","t":40,"s":59.5},{"p":"b4","g":"H","c":"u","t":45,"s":57},{"p":"b4","g":"H","c":"u","t":50,"s":55.5},{"p":"b4","g":"H","c":"u","t":55,"s":54.5},{"p":"b4","g":"H","c":"u","t":60,"s":53.5},{"p":"b4","g":"H","c":"u","t":65,"s":52},{"p":"b4","g":"H","c":"u","t":70,"s":51},{"p":"b4","g":"H","c":"u","t":74,"s":50.5},{"p":"b4","g":"H","c":"u","t":94.5,"s":50.5},
{"p":"b4","g":"H","c":"l","t":0,"s":100},{"p":"b4","g":"H","c":"l","t":4,"s":95.5},{"p":"b4","g":"H","c":"l","t":8,"s":90},{"p":"b4","g":"H","c":"l","t":12,"s":85},{"p":"b4","g":"H","c":"l","t":16,"s":78.5},{"p":"b4","g":"H","c":"l","t":20,"s":71},{"p":"b4","g":"H","c":"l","t":24,"s":63},{"p":"b4","g":"H","c":"l","t":28,"s":58},{"p":"b4","g":"H","c":"l","t":32,"s":54.5},{"p":"b4","g":"H","c":"l","t":36,"s":51.5},{"p":"b4","g":"H","c":"l","t":40,"s":49.5},{"p":"b4","g":"H","c":"l","t":45,"s":47},{"p":"b4","g":"H","c":"l","t":50,"s":46},{"p":"b4","g":"H","c":"l","t":55,"s":45},{"p":"b4","g":"H","c":"l","t":60,"s":43.5},{"p":"b4","g":"H","c":"l","t":65,"s":41.5},{"p":"b4","g":"H","c":"l","t":70,"s":40},{"p":"b4","g":"H","c":"l","t":74,"s":38.5},{"p":"b4","g":"H","c":"l","t":94.5,"s":38.5}
],
"risk":[
{"p":"a1","g":"L","t":0,"n":80},{"p":"a1","g":"L","t":20,"n":74},{"p":"a1","g":"L","t":40,"n":68},{"p":"a1","g":"L","t":60,"n":58},{"p":"a1","g":"L","t":80,"n":12},{"p":"a1","g":"L","t":100,"n":3},{"p":"a1","g":"L","t":120,"n":0},
{"p":"a1","g":"M","t":0,"n":80},{"p":"a1","g":"M","t":20,"n":52},{"p":"a1","g":"M","t":40,"n":45},{"p":"a1","g":"M","t":60,"n":35},{"p":"a1","g":"M","t":80,"n":4},{"p":"a1","g":"M","t":100,"n":0},{"p":"a1","g":"M","t":120,"n":0},
{"p":"a1","g":"H","t":0,"n":80},{"p":"a1","g":"H","t":20,"n":44},{"p":"a1","g":"H","t":40,"n":33},{"p":"a1","g":"H","t":60,"n":19},{"p":"a1","g":"H","t":80,"n":5},{"p":"a1","g":"H","t":100,"n":1},{"p":"a1","g":"H","t":120,"n":0},
{"p":"a2","g":"L","t":0,"n":36},{"p":"a2","g":"L","t":20,"n":33},{"p":"a2","g":"L","t":40,"n":26},{"p":"a2","g":"L","t":60,"n":22},{"p":"a2","g":"L","t":80,"n":6},{"p":"a2","g":"L","t":100,"n":2},{"p":"a2","g":"L","t":120,"n":0},
{"p":"a2","g":"M","t":0,"n":59},{"p":"a2","g":"M","t":20,"n":42},{"p":"a2","g":"M","t":40,"n":36},{"p":"a2","g":"M","t":60,"n":21},{"p":"a2","g":"M","t":80,"n":5},{"p":"a2","g":"M","t":100,"n":2},{"p":"a2","g":"M","t":120,"n":0},
{"p":"a2","g":"H","t":0,"n":63},{"p":"a2","g":"H","t":20,"n":33},{"p":"a2","g":"H","t":40,"n":19},{"p":"a2","g":"H","t":60,"n":13},{"p":"a2","g":"H","t":80,"n":4},{"p":"a2","g":"H","t":100,"n":2},{"p":"a2","g":"H","t":120,"n":0},
{"p":"a3","g":"L","t":0,"n":147},{"p":"a3","g":"L","t":20,"n":117},{"p":"a3","g":"L","t":40,"n":88},{"p":"a3","g":"L","t":60,"n":45},{"p":"a3","g":"L","t":80,"n":7},{"p":"a3","g":"L","t":100,"n":0},
{"p":"a3","g":"M","t":0,"n":179},{"p":"a3","g":"M","t":20,"n":128},{"p":"a3","g":"M","t":40,"n":102},{"p":"a3","g":"M","t":60,"n":49},{"p":"a3","g":"M","t":80,"n":9},{"p":"a3","g":"M","t":100,"n":0},
{"p":"a3","g":"H","t":0,"n":196},{"p":"a3","g":"H","t":20,"n":98},{"p":"a3","g":"H","t":40,"n":65},{"p":"a3","g":"H","t":60,"n":32},{"p":"a3","g":"H","t":80,"n":7},{"p":"a3","g":"H","t":100,"n":0},
{"p":"a4","g":"L","t":0,"n":368},{"p":"a4","g":"L","t":20,"n":307},{"p":"a4","g":"L","t":40,"n":190},{"p":"a4","g":"L","t":60,"n":94},{"p":"a4","g":"L","t":80,"n":38},{"p":"a4","g":"L","t":100,"n":0},
{"p":"a4","g":"M","t":0,"n":391},{"p":"a4","g":"M","t":20,"n":307},{"p":"a4","g":"M","t":40,"n":173},{"p":"a4","g":"M","t":60,"n":78},{"p":"a4","g":"M","t":80,"n":20},{"p":"a4","g":"M","t":100,"n":0},
{"p":"a4","g":"H","t":0,"n":472},{"p":"a4","g":"H","t":20,"n":291},{"p":"a4","g":"H","t":40,"n":161},{"p":"a4","g":"H","t":60,"n":79},{"p":"a4","g":"H","t":80,"n":15},{"p":"a4","g":"H","t":100,"n":0},
{"p":"b1","g":"L","t":0,"n":80},{"p":"b1","g":"L","t":20,"n":78},{"p":"b1","g":"L","t":40,"n":72},{"p":"b1","g":"L","t":60,"n":62},{"p":"b1","g":"L","t":80,"n":12},{"p":"b1","g":"L","t":100,"n":3},{"p":"b1","g":"L","t":120,"n":0},
{"p":"b1","g":"M","t":0,"n":80},{"p":"b1","g":"M","t":20,"n":65},{"p":"b1","g":"M","t":40,"n":54},{"p":"b1","g":"M","t":60,"n":36},{"p":"b1","g":"M","t":80,"n":4},{"p":"b1","g":"M","t":100,"n":0},{"p":"b1","g":"M","t":120,"n":0},
{"p":"b1","g":"H","t":0,"n":80},{"p":"b1","g":"H","t":20,"n":57},{"p":"b1","g":"H","t":40,"n":37},{"p":"b1","g":"H","t":60,"n":25},{"p":"b1","g":"H","t":80,"n":6},{"p":"b1","g":"H","t":100,"n":3},{"p":"b1","g":"H","t":120,"n":0},
{"p":"b2","g":"L","t":0,"n":36},{"p":"b2","g":"L","t":20,"n":35},{"p":"b2","g":"L","t":40,"n":31},{"p":"b2","g":"L","t":60,"n":22},{"p":"b2","g":"L","t":80,"n":6},{"p":"b2","g":"L","t":100,"n":2},{"p":"b2","g":"L","t":120,"n":0},
{"p":"b2","g":"M","t":0,"n":59},{"p":"b2","g":"M","t":20,"n":47},{"p":"b2","g":"M","t":40,"n":40},{"p":"b2","g":"M","t":60,"n":24},{"p":"b2","g":"M","t":80,"n":4},{"p":"b2","g":"M","t":100,"n":3},{"p":"b2","g":"M","t":120,"n":0},
{"p":"b2","g":"H","t":0,"n":63},{"p":"b2","g":"H","t":20,"n":41},{"p":"b2","g":"H","t":40,"n":29},{"p":"b2","g":"H","t":60,"n":17},{"p":"b2","g":"H","t":80,"n":4},{"p":"b2","g":"H","t":100,"n":2},{"p":"b2","g":"H","t":120,"n":0},
{"p":"b3","g":"L","t":0,"n":147},{"p":"b3","g":"L","t":20,"n":126},{"p":"b3","g":"L","t":40,"n":105},{"p":"b3","g":"L","t":60,"n":51},{"p":"b3","g":"L","t":80,"n":7},{"p":"b3","g":"L","t":100,"n":0},
{"p":"b3","g":"M","t":0,"n":179},{"p":"b3","g":"M","t":20,"n":137},{"p":"b3","g":"M","t":40,"n":109},{"p":"b3","g":"M","t":60,"n":53},{"p":"b3","g":"M","t":80,"n":9},{"p":"b3","g":"M","t":100,"n":0},
{"p":"b3","g":"H","t":0,"n":196},{"p":"b3","g":"H","t":20,"n":116},{"p":"b3","g":"H","t":40,"n":73},{"p":"b3","g":"H","t":60,"n":35},{"p":"b3","g":"H","t":80,"n":7},{"p":"b3","g":"H","t":100,"n":0},
{"p":"b4","g":"L","t":0,"n":368},{"p":"b4","g":"L","t":20,"n":312},{"p":"b4","g":"L","t":40,"n":196},{"p":"b4","g":"L","t":60,"n":97},{"p":"b4","g":"L","t":80,"n":38},{"p":"b4","g":"L","t":100,"n":0},
{"p":"b4","g":"M","t":0,"n":391},{"p":"b4","g":"M","t":20,"n":316},{"p":"b4","g":"M","t":40,"n":180},{"p":"b4","g":"M","t":60,"n":81},{"p":"b4","g":"M","t":80,"n":20},{"p":"b4","g":"M","t":100,"n":0},
{"p":"b4","g":"H","t":0,"n":472},{"p":"b4","g":"H","t":20,"n":308},{"p":"b4","g":"H","t":40,"n":169},{"p":"b4","g":"H","t":60,"n":85},{"p":"b4","g":"H","t":80,"n":15},{"p":"b4","g":"H","t":100,"n":0}
]
},
"spacing":29,
"resolve":{"scale":{"x":"independent","y":"independent","color":"independent"},"legend":{"color":"independent"}},
"vconcat":[
{
"title":{"text":"a. Disease-free survival of each cohort","anchor":"start","frame":"bounds","font":"DejaVu Sans","fontSize":13,"fontWeight":"bold","offset":20.7,"dx":-8,"color":"#111"},
"bounds":"flush","columns":2,"spacing":{"row":41.5,"column":163.7},
"resolve":{"scale":{"x":"independent","y":"independent","color":"independent"},"legend":{"color":"independent"}},
"concat":[
{"width":184,"height":122,"title":{"text":"Training cohort","offset":4},
"layer":[
{"data":{"name":"km"},"transform":[{"filter":"datum.p=='a1' && datum.c=='e'"}],"mark":{"type":"line","interpolate":"step-after","strokeWidth":2},
"encoding":{"x":{"field":"t","type":"quantitative","scale":{"domain":[0,120],"nice":false},"axis":{"values":[0,20,40,60,80,100,120],"title":"month","labelOverlap":false}},"y":{"field":"s","type":"quantitative","scale":{"domain":[0,110],"nice":false},"axis":{"values":[0,50,100],"title":"Disease-free survival probability","labelOverlap":false}},"color":{"field":"g","type":"nominal","scale":{"domain":["L","M","H"],"range":["#22B573","#1E96BE","#EE1C25"]},"legend":{"title":null,"labelExpr":"'RS-' + datum.label"}}}},
{"data":{"name":"km"},"transform":[{"filter":"datum.p=='a1' && datum.c!='e'"}],"mark":{"type":"line","interpolate":"step-after","strokeWidth":1.1,"strokeDash":[1.5,1.5]},
"encoding":{"x":{"field":"t","type":"quantitative","axis":{"values":[0,20,40,60,80,100,120],"title":"month","labelOverlap":false}},"y":{"field":"s","type":"quantitative","axis":{"values":[0,50,100],"title":"Disease-free survival probability","labelOverlap":false}},"color":{"field":"g","type":"nominal","scale":{"domain":["L","M","H"],"range":["#22B573","#1E96BE","#EE1C25"]},"legend":{"title":null,"labelExpr":"'RS-' + datum.label"}},"detail":{"field":"c"}}},
{"data":{"values":[{}]},"mark":{"type":"text","text":"Log rank","align":"right","fontWeight":"bold","fontSize":8.5,"color":"#111"},"encoding":{"x":{"datum":95.1,"type":"quantitative","axis":{"values":[0,20,40,60,80,100,120],"title":"month","labelOverlap":false}},"y":{"datum":13.5,"type":"quantitative","axis":{"values":[0,50,100],"title":"Disease-free survival probability","labelOverlap":false}}}},
{"data":{"values":[{}]},"mark":{"type":"text","text":"P","align":"center","fontWeight":"bold","fontStyle":"italic","fontSize":8.5,"color":"#111"},"encoding":{"x":{"datum":98.5,"type":"quantitative","axis":{"values":[0,20,40,60,80,100,120],"title":"month","labelOverlap":false}},"y":{"datum":13.5,"type":"quantitative","axis":{"values":[0,50,100],"title":"Disease-free survival probability","labelOverlap":false}}}},
{"data":{"values":[{}]},"mark":{"type":"text","text":"< 0.001","align":"left","fontWeight":"bold","fontSize":8.5,"color":"#111"},"encoding":{"x":{"datum":102,"type":"quantitative","axis":{"values":[0,20,40,60,80,100,120],"title":"month","labelOverlap":false}},"y":{"datum":13.5,"type":"quantitative","axis":{"values":[0,50,100],"title":"Disease-free survival probability","labelOverlap":false}}}}
]},
{"width":184,"height":122,"title":{"text":"Internal validation cohort 1","offset":4},
"layer":[
{"data":{"name":"km"},"transform":[{"filter":"datum.p=='a2' && datum.c=='e'"}],"mark":{"type":"line","interpolate":"step-after","strokeWidth":2},
"encoding":{"x":{"field":"t","type":"quantitative","scale":{"domain":[0,120],"nice":false},"axis":{"values":[0,20,40,60,80,100,120],"title":"month","labelOverlap":false}},"y":{"field":"s","type":"quantitative","scale":{"domain":[0,110],"nice":false},"axis":{"values":[0,50,100],"title":"Disease-free survival probability","labelOverlap":false}},"color":{"field":"g","type":"nominal","scale":{"domain":["L","M","H"],"range":["#22B573","#1E96BE","#EE1C25"]},"legend":{"title":null,"labelExpr":"'RS-' + datum.label"}}}},
{"data":{"name":"km"},"transform":[{"filter":"datum.p=='a2' && datum.c!='e'"}],"mark":{"type":"line","interpolate":"step-after","strokeWidth":1.1,"strokeDash":[1.5,1.5]},
"encoding":{"x":{"field":"t","type":"quantitative","axis":{"values":[0,20,40,60,80,100,120],"title":"month","labelOverlap":false}},"y":{"field":"s","type":"quantitative","axis":{"values":[0,50,100],"title":"Disease-free survival probability","labelOverlap":false}},"color":{"field":"g","type":"nominal","scale":{"domain":["L","M","H"],"range":["#22B573","#1E96BE","#EE1C25"]},"legend":{"title":null,"labelExpr":"'RS-' + datum.label"}},"detail":{"field":"c"}}},
{"data":{"values":[{}]},"mark":{"type":"text","text":"Log rank","align":"right","fontWeight":"bold","fontSize":8.5,"color":"#111"},"encoding":{"x":{"datum":95.1,"type":"quantitative","axis":{"values":[0,20,40,60,80,100,120],"title":"month","labelOverlap":false}},"y":{"datum":13.5,"type":"quantitative","axis":{"values":[0,50,100],"title":"Disease-free survival probability","labelOverlap":false}}}},
{"data":{"values":[{}]},"mark":{"type":"text","text":"P","align":"center","fontWeight":"bold","fontStyle":"italic","fontSize":8.5,"color":"#111"},"encoding":{"x":{"datum":98.5,"type":"quantitative","axis":{"values":[0,20,40,60,80,100,120],"title":"month","labelOverlap":false}},"y":{"datum":13.5,"type":"quantitative","axis":{"values":[0,50,100],"title":"Disease-free survival probability","labelOverlap":false}}}},
{"data":{"values":[{}]},"mark":{"type":"text","text":"< 0.001","align":"left","fontWeight":"bold","fontSize":8.5,"color":"#111"},"encoding":{"x":{"datum":102,"type":"quantitative","axis":{"values":[0,20,40,60,80,100,120],"title":"month","labelOverlap":false}},"y":{"datum":13.5,"type":"quantitative","axis":{"values":[0,50,100],"title":"Disease-free survival probability","labelOverlap":false}}}}
]},
{"width":184,"height":34.5,"title":{"text":"No. at risk","anchor":"start","frame":"bounds","fontSize":10,"offset":3},
"data":{"name":"risk"},"transform":[{"filter":"datum.p=='a1'"}],"mark":{"type":"text","fontSize":9,"color":"#222"},
"encoding":{"x":{"field":"t","type":"quantitative","scale":{"domain":[0,120],"nice":false},"axis":null},"y":{"field":"g","type":"nominal","scale":{"domain":["L","M","H"],"range":[4.5,24],"padding":0},"axis":{"title":null,"domain":false,"ticks":false,"labelAlign":"left","labelPadding":44,"labelFontWeight":"normal","labelFontSize":9,"labelExpr":"'RS-' + datum.label"}},"text":{"field":"n","type":"quantitative"}}},
{"width":184,"height":34.5,"title":{"text":"No. at risk","anchor":"start","frame":"bounds","fontSize":10,"offset":3},
"data":{"name":"risk"},"transform":[{"filter":"datum.p=='a2'"}],"mark":{"type":"text","fontSize":9,"color":"#222"},
"encoding":{"x":{"field":"t","type":"quantitative","scale":{"domain":[0,120],"nice":false},"axis":null},"y":{"field":"g","type":"nominal","scale":{"domain":["L","M","H"],"range":[4.5,24],"padding":0},"axis":{"title":null,"domain":false,"ticks":false,"labelAlign":"left","labelPadding":44,"labelFontWeight":"normal","labelFontSize":9,"labelExpr":"'RS-' + datum.label"}},"text":{"field":"n","type":"quantitative"}}},
{"width":184,"height":122,"title":{"text":"Internal validation cohort 2","offset":4},
"layer":[
{"data":{"name":"km"},"transform":[{"filter":"datum.p=='a3' && datum.c=='e'"}],"mark":{"type":"line","interpolate":"step-after","strokeWidth":2},
"encoding":{"x":{"field":"t","type":"quantitative","scale":{"domain":[0,100],"nice":false},"axis":{"values":[0,20,40,60,80,100],"title":"month","labelOverlap":false}},"y":{"field":"s","type":"quantitative","scale":{"domain":[0,110],"nice":false},"axis":{"values":[0,50,100],"title":"Disease-free survival probability","labelOverlap":false}},"color":{"field":"g","type":"nominal","scale":{"domain":["L","M","H"],"range":["#22B573","#1E96BE","#EE1C25"]},"legend":{"title":null,"labelExpr":"'RS-' + datum.label"}}}},
{"data":{"name":"km"},"transform":[{"filter":"datum.p=='a3' && datum.c!='e'"}],"mark":{"type":"line","interpolate":"step-after","strokeWidth":1.1,"strokeDash":[1.5,1.5]},
"encoding":{"x":{"field":"t","type":"quantitative","axis":{"values":[0,20,40,60,80,100],"title":"month","labelOverlap":false}},"y":{"field":"s","type":"quantitative","axis":{"values":[0,50,100],"title":"Disease-free survival probability","labelOverlap":false}},"color":{"field":"g","type":"nominal","scale":{"domain":["L","M","H"],"range":["#22B573","#1E96BE","#EE1C25"]},"legend":{"title":null,"labelExpr":"'RS-' + datum.label"}},"detail":{"field":"c"}}},
{"data":{"values":[{}]},"mark":{"type":"text","text":"Log rank","align":"right","fontWeight":"bold","fontSize":8.5,"color":"#111"},"encoding":{"x":{"datum":79.3,"type":"quantitative","axis":{"values":[0,20,40,60,80,100],"title":"month","labelOverlap":false}},"y":{"datum":13.5,"type":"quantitative","axis":{"values":[0,50,100],"title":"Disease-free survival probability","labelOverlap":false}}}},
{"data":{"values":[{}]},"mark":{"type":"text","text":"P","align":"center","fontWeight":"bold","fontStyle":"italic","fontSize":8.5,"color":"#111"},"encoding":{"x":{"datum":82.1,"type":"quantitative","axis":{"values":[0,20,40,60,80,100],"title":"month","labelOverlap":false}},"y":{"datum":13.5,"type":"quantitative","axis":{"values":[0,50,100],"title":"Disease-free survival probability","labelOverlap":false}}}},
{"data":{"values":[{}]},"mark":{"type":"text","text":"< 0.001","align":"left","fontWeight":"bold","fontSize":8.5,"color":"#111"},"encoding":{"x":{"datum":85,"type":"quantitative","axis":{"values":[0,20,40,60,80,100],"title":"month","labelOverlap":false}},"y":{"datum":13.5,"type":"quantitative","axis":{"values":[0,50,100],"title":"Disease-free survival probability","labelOverlap":false}}}}
]},
{"width":184,"height":122,"title":{"text":"External validation cohort","offset":4},
"layer":[
{"data":{"name":"km"},"transform":[{"filter":"datum.p=='a4' && datum.c=='e'"}],"mark":{"type":"line","interpolate":"step-after","strokeWidth":2},
"encoding":{"x":{"field":"t","type":"quantitative","scale":{"domain":[0,100],"nice":false},"axis":{"values":[0,20,40,60,80,100],"title":"month","labelOverlap":false}},"y":{"field":"s","type":"quantitative","scale":{"domain":[0,110],"nice":false},"axis":{"values":[0,50,100],"title":"Disease-free survival probability","labelOverlap":false}},"color":{"field":"g","type":"nominal","scale":{"domain":["L","M","H"],"range":["#22B573","#1E96BE","#EE1C25"]},"legend":{"title":null,"labelExpr":"'RS-' + datum.label"}}}},
{"data":{"name":"km"},"transform":[{"filter":"datum.p=='a4' && datum.c!='e'"}],"mark":{"type":"line","interpolate":"step-after","strokeWidth":1.1,"strokeDash":[1.5,1.5]},
"encoding":{"x":{"field":"t","type":"quantitative","axis":{"values":[0,20,40,60,80,100],"title":"month","labelOverlap":false}},"y":{"field":"s","type":"quantitative","axis":{"values":[0,50,100],"title":"Disease-free survival probability","labelOverlap":false}},"color":{"field":"g","type":"nominal","scale":{"domain":["L","M","H"],"range":["#22B573","#1E96BE","#EE1C25"]},"legend":{"title":null,"labelExpr":"'RS-' + datum.label"}},"detail":{"field":"c"}}},
{"data":{"values":[{}]},"mark":{"type":"text","text":"Log rank","align":"right","fontWeight":"bold","fontSize":8.5,"color":"#111"},"encoding":{"x":{"datum":79.3,"type":"quantitative","axis":{"values":[0,20,40,60,80,100],"title":"month","labelOverlap":false}},"y":{"datum":13.5,"type":"quantitative","axis":{"values":[0,50,100],"title":"Disease-free survival probability","labelOverlap":false}}}},
{"data":{"values":[{}]},"mark":{"type":"text","text":"P","align":"center","fontWeight":"bold","fontStyle":"italic","fontSize":8.5,"color":"#111"},"encoding":{"x":{"datum":82.1,"type":"quantitative","axis":{"values":[0,20,40,60,80,100],"title":"month","labelOverlap":false}},"y":{"datum":13.5,"type":"quantitative","axis":{"values":[0,50,100],"title":"Disease-free survival probability","labelOverlap":false}}}},
{"data":{"values":[{}]},"mark":{"type":"text","text":"< 0.001","align":"left","fontWeight":"bold","fontSize":8.5,"color":"#111"},"encoding":{"x":{"datum":85,"type":"quantitative","axis":{"values":[0,20,40,60,80,100],"title":"month","labelOverlap":false}},"y":{"datum":13.5,"type":"quantitative","axis":{"values":[0,50,100],"title":"Disease-free survival probability","labelOverlap":false}}}}
]},
{"width":184,"height":34.5,"title":{"text":"No. at risk","anchor":"start","frame":"bounds","fontSize":10,"offset":3},
"data":{"name":"risk"},"transform":[{"filter":"datum.p=='a3'"}],"mark":{"type":"text","fontSize":9,"color":"#222"},
"encoding":{"x":{"field":"t","type":"quantitative","scale":{"domain":[0,100],"nice":false},"axis":null},"y":{"field":"g","type":"nominal","scale":{"domain":["L","M","H"],"range":[4.5,24],"padding":0},"axis":{"title":null,"domain":false,"ticks":false,"labelAlign":"left","labelPadding":44,"labelFontWeight":"normal","labelFontSize":9,"labelExpr":"'RS-' + datum.label"}},"text":{"field":"n","type":"quantitative"}}},
{"width":184,"height":34.5,"title":{"text":"No. at risk","anchor":"start","frame":"bounds","fontSize":10,"offset":3},
"data":{"name":"risk"},"transform":[{"filter":"datum.p=='a4'"}],"mark":{"type":"text","fontSize":9,"color":"#222"},
"encoding":{"x":{"field":"t","type":"quantitative","scale":{"domain":[0,100],"nice":false},"axis":null},"y":{"field":"g","type":"nominal","scale":{"domain":["L","M","H"],"range":[4.5,24],"padding":0},"axis":{"title":null,"domain":false,"ticks":false,"labelAlign":"left","labelPadding":44,"labelFontWeight":"normal","labelFontSize":9,"labelExpr":"'RS-' + datum.label"}},"text":{"field":"n","type":"quantitative"}}}
]
},
{
"title":{"text":"b. Overall survival of each cohort","anchor":"start","frame":"bounds","font":"DejaVu Sans","fontSize":13,"fontWeight":"bold","offset":20,"color":"#111"},
"bounds":"flush","columns":2,"spacing":{"row":41.5,"column":163.7},
"resolve":{"scale":{"x":"independent","y":"independent","color":"independent"},"legend":{"color":"independent"}},
"concat":[
{"width":184,"height":122,"title":"Training cohort",
"layer":[
{"data":{"name":"km"},"transform":[{"filter":"datum.p=='b1' && datum.c=='e'"}],"mark":{"type":"line","interpolate":"step-after","strokeWidth":2},
"encoding":{"x":{"field":"t","type":"quantitative","scale":{"domain":[0,120],"nice":false},"axis":{"values":[0,20,40,60,80,100,120],"title":"month","labelOverlap":false}},"y":{"field":"s","type":"quantitative","scale":{"domain":[0,110],"nice":false},"axis":{"values":[0,50,100],"title":"Overall Survival Probability","labelOverlap":false}},"color":{"field":"g","type":"nominal","scale":{"domain":["L","M","H"],"range":["#22B573","#1E96BE","#EE1C25"]},"legend":{"title":null,"labelExpr":"'RS-' + datum.label"}}}},
{"data":{"name":"km"},"transform":[{"filter":"datum.p=='b1' && datum.c!='e'"}],"mark":{"type":"line","interpolate":"step-after","strokeWidth":1.1,"strokeDash":[1.5,1.5]},
"encoding":{"x":{"field":"t","type":"quantitative","axis":{"values":[0,20,40,60,80,100,120],"title":"month","labelOverlap":false}},"y":{"field":"s","type":"quantitative","axis":{"values":[0,50,100],"title":"Overall Survival Probability","labelOverlap":false}},"color":{"field":"g","type":"nominal","scale":{"domain":["L","M","H"],"range":["#22B573","#1E96BE","#EE1C25"]},"legend":{"title":null,"labelExpr":"'RS-' + datum.label"}},"detail":{"field":"c"}}},
{"data":{"values":[{}]},"mark":{"type":"text","text":"Log rank","align":"right","fontWeight":"bold","fontSize":8.5,"color":"#111"},"encoding":{"x":{"datum":95.1,"type":"quantitative","axis":{"values":[0,20,40,60,80,100,120],"title":"month","labelOverlap":false}},"y":{"datum":13.5,"type":"quantitative","axis":{"values":[0,50,100],"title":"Overall Survival Probability","labelOverlap":false}}}},
{"data":{"values":[{}]},"mark":{"type":"text","text":"P","align":"center","fontWeight":"bold","fontStyle":"italic","fontSize":8.5,"color":"#111"},"encoding":{"x":{"datum":98.5,"type":"quantitative","axis":{"values":[0,20,40,60,80,100,120],"title":"month","labelOverlap":false}},"y":{"datum":13.5,"type":"quantitative","axis":{"values":[0,50,100],"title":"Overall Survival Probability","labelOverlap":false}}}},
{"data":{"values":[{}]},"mark":{"type":"text","text":"< 0.001","align":"left","fontWeight":"bold","fontSize":8.5,"color":"#111"},"encoding":{"x":{"datum":102,"type":"quantitative","axis":{"values":[0,20,40,60,80,100,120],"title":"month","labelOverlap":false}},"y":{"datum":13.5,"type":"quantitative","axis":{"values":[0,50,100],"title":"Overall Survival Probability","labelOverlap":false}}}}
]},
{"width":184,"height":122,"title":"Internal validation cohort 1",
"layer":[
{"data":{"name":"km"},"transform":[{"filter":"datum.p=='b2' && datum.c=='e'"}],"mark":{"type":"line","interpolate":"step-after","strokeWidth":2},
"encoding":{"x":{"field":"t","type":"quantitative","scale":{"domain":[0,120],"nice":false},"axis":{"values":[0,20,40,60,80,100,120],"title":"month","labelOverlap":false}},"y":{"field":"s","type":"quantitative","scale":{"domain":[0,110],"nice":false},"axis":{"values":[0,50,100],"title":"Overall Survival Probability","labelOverlap":false}},"color":{"field":"g","type":"nominal","scale":{"domain":["L","M","H"],"range":["#22B573","#1E96BE","#EE1C25"]},"legend":{"title":null,"labelExpr":"'RS-' + datum.label"}}}},
{"data":{"name":"km"},"transform":[{"filter":"datum.p=='b2' && datum.c!='e'"}],"mark":{"type":"line","interpolate":"step-after","strokeWidth":1.1,"strokeDash":[1.5,1.5]},
"encoding":{"x":{"field":"t","type":"quantitative","axis":{"values":[0,20,40,60,80,100,120],"title":"month","labelOverlap":false}},"y":{"field":"s","type":"quantitative","axis":{"values":[0,50,100],"title":"Overall Survival Probability","labelOverlap":false}},"color":{"field":"g","type":"nominal","scale":{"domain":["L","M","H"],"range":["#22B573","#1E96BE","#EE1C25"]},"legend":{"title":null,"labelExpr":"'RS-' + datum.label"}},"detail":{"field":"c"}}},
{"data":{"values":[{}]},"mark":{"type":"text","text":"Log rank","align":"right","fontWeight":"bold","fontSize":8.5,"color":"#111"},"encoding":{"x":{"datum":95.1,"type":"quantitative","axis":{"values":[0,20,40,60,80,100,120],"title":"month","labelOverlap":false}},"y":{"datum":13.5,"type":"quantitative","axis":{"values":[0,50,100],"title":"Overall Survival Probability","labelOverlap":false}}}},
{"data":{"values":[{}]},"mark":{"type":"text","text":"P","align":"center","fontWeight":"bold","fontStyle":"italic","fontSize":8.5,"color":"#111"},"encoding":{"x":{"datum":98.5,"type":"quantitative","axis":{"values":[0,20,40,60,80,100,120],"title":"month","labelOverlap":false}},"y":{"datum":13.5,"type":"quantitative","axis":{"values":[0,50,100],"title":"Overall Survival Probability","labelOverlap":false}}}},
{"data":{"values":[{}]},"mark":{"type":"text","text":"< 0.001","align":"left","fontWeight":"bold","fontSize":8.5,"color":"#111"},"encoding":{"x":{"datum":102,"type":"quantitative","axis":{"values":[0,20,40,60,80,100,120],"title":"month","labelOverlap":false}},"y":{"datum":13.5,"type":"quantitative","axis":{"values":[0,50,100],"title":"Overall Survival Probability","labelOverlap":false}}}}
]},
{"width":184,"height":34.5,"title":{"text":"No. at risk","anchor":"start","frame":"bounds","fontSize":10,"offset":3},
"data":{"name":"risk"},"transform":[{"filter":"datum.p=='b1'"}],"mark":{"type":"text","fontSize":9,"color":"#222"},
"encoding":{"x":{"field":"t","type":"quantitative","scale":{"domain":[0,120],"nice":false},"axis":null},"y":{"field":"g","type":"nominal","scale":{"domain":["L","M","H"],"range":[4.5,24],"padding":0},"axis":{"title":null,"domain":false,"ticks":false,"labelAlign":"left","labelPadding":44,"labelFontWeight":"normal","labelFontSize":9,"labelExpr":"'RS-' + datum.label"}},"text":{"field":"n","type":"quantitative"}}},
{"width":184,"height":34.5,"title":{"text":"No. at risk","anchor":"start","frame":"bounds","fontSize":10,"offset":3},
"data":{"name":"risk"},"transform":[{"filter":"datum.p=='b2'"}],"mark":{"type":"text","fontSize":9,"color":"#222"},
"encoding":{"x":{"field":"t","type":"quantitative","scale":{"domain":[0,120],"nice":false},"axis":null},"y":{"field":"g","type":"nominal","scale":{"domain":["L","M","H"],"range":[4.5,24],"padding":0},"axis":{"title":null,"domain":false,"ticks":false,"labelAlign":"left","labelPadding":44,"labelFontWeight":"normal","labelFontSize":9,"labelExpr":"'RS-' + datum.label"}},"text":{"field":"n","type":"quantitative"}}},
{"width":184,"height":122,"title":"Internal validation cohort 2",
"layer":[
{"data":{"name":"km"},"transform":[{"filter":"datum.p=='b3' && datum.c=='e'"}],"mark":{"type":"line","interpolate":"step-after","strokeWidth":2},
"encoding":{"x":{"field":"t","type":"quantitative","scale":{"domain":[0,100],"nice":false},"axis":{"values":[0,20,40,60,80,100],"title":"month","labelOverlap":false}},"y":{"field":"s","type":"quantitative","scale":{"domain":[0,110],"nice":false},"axis":{"values":[0,50,100],"title":"Overall Survival Probability","labelOverlap":false}},"color":{"field":"g","type":"nominal","scale":{"domain":["L","M","H"],"range":["#22B573","#1E96BE","#EE1C25"]},"legend":{"title":null,"labelExpr":"'RS-' + datum.label"}}}},
{"data":{"name":"km"},"transform":[{"filter":"datum.p=='b3' && datum.c!='e'"}],"mark":{"type":"line","interpolate":"step-after","strokeWidth":1.1,"strokeDash":[1.5,1.5]},
"encoding":{"x":{"field":"t","type":"quantitative","axis":{"values":[0,20,40,60,80,100],"title":"month","labelOverlap":false}},"y":{"field":"s","type":"quantitative","axis":{"values":[0,50,100],"title":"Overall Survival Probability","labelOverlap":false}},"color":{"field":"g","type":"nominal","scale":{"domain":["L","M","H"],"range":["#22B573","#1E96BE","#EE1C25"]},"legend":{"title":null,"labelExpr":"'RS-' + datum.label"}},"detail":{"field":"c"}}},
{"data":{"values":[{}]},"mark":{"type":"text","text":"Log rank","align":"right","fontWeight":"bold","fontSize":8.5,"color":"#111"},"encoding":{"x":{"datum":79.3,"type":"quantitative","axis":{"values":[0,20,40,60,80,100],"title":"month","labelOverlap":false}},"y":{"datum":13.5,"type":"quantitative","axis":{"values":[0,50,100],"title":"Overall Survival Probability","labelOverlap":false}}}},
{"data":{"values":[{}]},"mark":{"type":"text","text":"P","align":"center","fontWeight":"bold","fontStyle":"italic","fontSize":8.5,"color":"#111"},"encoding":{"x":{"datum":82.1,"type":"quantitative","axis":{"values":[0,20,40,60,80,100],"title":"month","labelOverlap":false}},"y":{"datum":13.5,"type":"quantitative","axis":{"values":[0,50,100],"title":"Overall Survival Probability","labelOverlap":false}}}},
{"data":{"values":[{}]},"mark":{"type":"text","text":"< 0.001","align":"left","fontWeight":"bold","fontSize":8.5,"color":"#111"},"encoding":{"x":{"datum":85,"type":"quantitative","axis":{"values":[0,20,40,60,80,100],"title":"month","labelOverlap":false}},"y":{"datum":13.5,"type":"quantitative","axis":{"values":[0,50,100],"title":"Overall Survival Probability","labelOverlap":false}}}}
]},
{"width":184,"height":122,"title":"External validation cohort",
"layer":[
{"data":{"name":"km"},"transform":[{"filter":"datum.p=='b4' && datum.c=='e'"}],"mark":{"type":"line","interpolate":"step-after","strokeWidth":2},
"encoding":{"x":{"field":"t","type":"quantitative","scale":{"domain":[0,100],"nice":false},"axis":{"values":[0,20,40,60,80,100],"title":"month","labelOverlap":false}},"y":{"field":"s","type":"quantitative","scale":{"domain":[0,110],"nice":false},"axis":{"values":[0,50,100],"title":"Overall Survival Probability","labelOverlap":false}},"color":{"field":"g","type":"nominal","scale":{"domain":["L","M","H"],"range":["#22B573","#1E96BE","#EE1C25"]},"legend":{"title":null,"labelExpr":"'RS-' + datum.label"}}}},
{"data":{"name":"km"},"transform":[{"filter":"datum.p=='b4' && datum.c!='e'"}],"mark":{"type":"line","interpolate":"step-after","strokeWidth":1.1,"strokeDash":[1.5,1.5]},
"encoding":{"x":{"field":"t","type":"quantitative","axis":{"values":[0,20,40,60,80,100],"title":"month","labelOverlap":false}},"y":{"field":"s","type":"quantitative","axis":{"values":[0,50,100],"title":"Overall Survival Probability","labelOverlap":false}},"color":{"field":"g","type":"nominal","scale":{"domain":["L","M","H"],"range":["#22B573","#1E96BE","#EE1C25"]},"legend":{"title":null,"labelExpr":"'RS-' + datum.label"}},"detail":{"field":"c"}}},
{"data":{"values":[{}]},"mark":{"type":"text","text":"Log rank","align":"right","fontWeight":"bold","fontSize":8.5,"color":"#111"},"encoding":{"x":{"datum":79.3,"type":"quantitative","axis":{"values":[0,20,40,60,80,100],"title":"month","labelOverlap":false}},"y":{"datum":13.5,"type":"quantitative","axis":{"values":[0,50,100],"title":"Overall Survival Probability","labelOverlap":false}}}},
{"data":{"values":[{}]},"mark":{"type":"text","text":"P","align":"center","fontWeight":"bold","fontStyle":"italic","fontSize":8.5,"color":"#111"},"encoding":{"x":{"datum":82.1,"type":"quantitative","axis":{"values":[0,20,40,60,80,100],"title":"month","labelOverlap":false}},"y":{"datum":13.5,"type":"quantitative","axis":{"values":[0,50,100],"title":"Overall Survival Probability","labelOverlap":false}}}},
{"data":{"values":[{}]},"mark":{"type":"text","text":"< 0.001","align":"left","fontWeight":"bold","fontSize":8.5,"color":"#111"},"encoding":{"x":{"datum":85,"type":"quantitative","axis":{"values":[0,20,40,60,80,100],"title":"month","labelOverlap":false}},"y":{"datum":13.5,"type":"quantitative","axis":{"values":[0,50,100],"title":"Overall Survival Probability","labelOverlap":false}}}}
]},
{"width":184,"height":34.5,"title":{"text":"No. at risk","anchor":"start","frame":"bounds","fontSize":10,"offset":3},
"data":{"name":"risk"},"transform":[{"filter":"datum.p=='b3'"}],"mark":{"type":"text","fontSize":9,"color":"#222"},
"encoding":{"x":{"field":"t","type":"quantitative","scale":{"domain":[0,100],"nice":false},"axis":null},"y":{"field":"g","type":"nominal","scale":{"domain":["L","M","H"],"range":[4.5,24],"padding":0},"axis":{"title":null,"domain":false,"ticks":false,"labelAlign":"left","labelPadding":44,"labelFontWeight":"normal","labelFontSize":9,"labelExpr":"'RS-' + datum.label"}},"text":{"field":"n","type":"quantitative"}}},
{"width":184,"height":34.5,"title":{"text":"No. at risk","anchor":"start","frame":"bounds","fontSize":10,"offset":3},
"data":{"name":"risk"},"transform":[{"filter":"datum.p=='b4'"}],"mark":{"type":"text","fontSize":9,"color":"#222"},
"encoding":{"x":{"field":"t","type":"quantitative","scale":{"domain":[0,100],"nice":false},"axis":null},"y":{"field":"g","type":"nominal","scale":{"domain":["L","M","H"],"range":[4.5,24],"padding":0},"axis":{"title":null,"domain":false,"ticks":false,"labelAlign":"left","labelPadding":44,"labelFontWeight":"normal","labelFontSize":9,"labelExpr":"'RS-' + datum.label"}},"text":{"field":"n","type":"quantitative"}}}
]
}
],
"config":{
"view":{"stroke":null},
"font":"Liberation Sans",
"title":{"font":"Liberation Sans","fontSize":12,"fontWeight":"bold","color":"#111","offset":12},
"axis":{"grid":false,"domainColor":"#333","domainWidth":2,"tickColor":"#333","tickWidth":1.5,"tickSize":3,"labelFont":"Liberation Sans","labelFontWeight":"bold","labelFontSize":7,"labelColor":"#111","labelOverlap":false,"titleFont":"Liberation Sans","titleFontWeight":"bold","titleColor":"#111"},
"axisX":{"labelPadding":3,"titleFontSize":10,"titlePadding":9,"labelFlush":false},
"axisY":{"labelPadding":1,"titleFontSize":9,"titlePadding":10},
"legend":{"orient":"right","offset":27,"padding":0,"symbolType":"stroke","symbolStrokeWidth":2,"symbolSize":225,"symbolDash":[],"labelFont":"Liberation Sans","labelFontSize":9,"labelColor":"#111","labelOffset":7,"rowPadding":2}
}
}
